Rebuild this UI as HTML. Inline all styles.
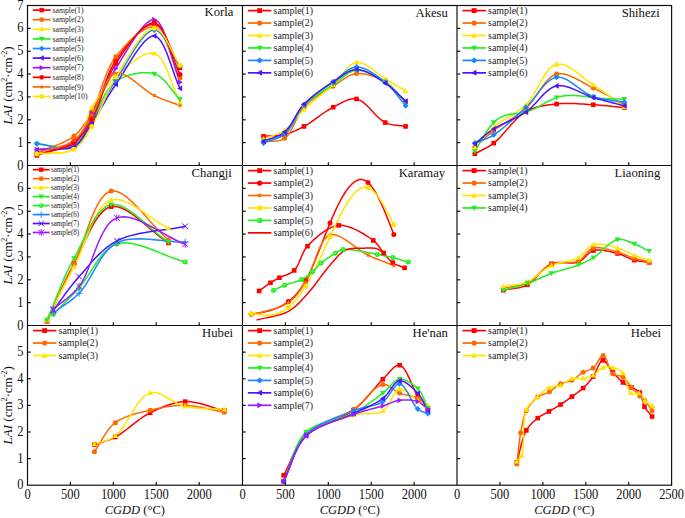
<!DOCTYPE html><html><head><meta charset="utf-8"><style>html,body{margin:0;padding:0;background:#fff;}svg{display:block;}</style></head><body><svg width="685" height="518" viewBox="0 0 685 518">
<rect width="685" height="518" fill="#fff"/>
<defs><clipPath id="clip00"><rect x="27.5" y="5.5" width="214.6" height="160.0"/></clipPath><clipPath id="clip01"><rect x="242.5" y="5.5" width="214.6" height="160.0"/></clipPath><clipPath id="clip02"><rect x="457.0" y="5.5" width="214.6" height="160.0"/></clipPath><clipPath id="clip10"><rect x="27.5" y="165.5" width="214.6" height="160.0"/></clipPath><clipPath id="clip11"><rect x="242.5" y="165.5" width="214.6" height="160.0"/></clipPath><clipPath id="clip12"><rect x="457.0" y="165.5" width="214.6" height="160.0"/></clipPath><clipPath id="clip20"><rect x="27.5" y="325.5" width="214.6" height="159.7"/></clipPath><clipPath id="clip21"><rect x="242.5" y="325.5" width="214.6" height="159.7"/></clipPath><clipPath id="clip22"><rect x="457.0" y="325.5" width="214.6" height="159.7"/></clipPath></defs>
<g clip-path="url(#clip00)">
<path d="M36.86 155.21L39.55 154.22L42.31 153.27L45.12 152.36L47.96 151.47L50.81 150.60L53.66 149.71L56.48 148.81L59.26 147.88L61.97 146.90L64.61 145.86L67.14 144.75L69.55 143.54L71.82 142.24L73.94 140.81L75.60 139.54L77.15 138.25L78.61 136.92L79.98 135.55L81.29 134.13L82.53 132.67L83.73 131.15L84.89 129.58L86.03 127.94L87.15 126.24L88.28 124.46L89.42 122.61L90.59 120.67L91.79 118.64L93.56 115.36L95.22 111.73L96.81 107.80L98.33 103.62L99.83 99.25L101.32 94.75L102.83 90.16L104.37 85.55L105.98 80.96L107.68 76.46L109.49 72.09L111.44 67.92L113.54 63.99L115.83 60.36L118.12 57.08L120.60 53.62L123.25 50.06L126.03 46.47L128.91 42.91L131.86 39.45L134.84 36.18L137.84 33.16L140.81 30.46L143.74 28.14L146.58 26.30L149.30 24.98L151.88 24.27L154.29 24.24L156.49 24.95L158.58 26.37L160.59 28.42L162.51 31.01L164.36 34.06L166.15 37.48L167.90 41.18L169.62 45.08L171.33 49.10L173.02 53.14L174.73 57.13L176.46 60.98L178.23 64.60L180.04 67.90" fill="none" stroke="#ff0000" stroke-width="1.5" stroke-linejoin="round"/>
<path d="M36.86 152.93L39.55 151.75L42.31 150.62L45.12 149.52L47.96 148.45L50.82 147.39L53.67 146.32L56.49 145.23L59.27 144.11L61.99 142.95L64.62 141.73L67.15 140.44L69.56 139.07L71.83 137.60L73.94 136.01L75.62 134.59L77.18 133.13L78.63 131.64L80.01 130.10L81.30 128.52L82.53 126.90L83.72 125.22L84.87 123.50L86.00 121.71L87.12 119.86L88.25 117.95L89.39 115.97L90.57 113.91L91.79 111.79L93.51 108.55L95.13 104.99L96.68 101.17L98.19 97.14L99.67 92.95L101.15 88.66L102.66 84.30L104.22 79.95L105.84 75.64L107.56 71.44L109.39 67.39L111.37 63.55L113.51 59.97L115.83 56.70L118.12 53.84L120.61 50.86L123.27 47.81L126.06 44.76L128.96 41.77L131.93 38.90L134.94 36.20L137.95 33.73L140.94 31.56L143.86 29.75L146.69 28.35L149.39 27.42L151.94 27.02L154.29 27.21L156.64 28.19L158.83 29.95L160.90 32.40L162.85 35.44L164.70 38.99L166.48 42.94L168.20 47.21L169.87 51.70L171.52 56.31L173.16 60.95L174.82 65.53L176.50 69.96L178.24 74.13L180.04 77.96" fill="none" stroke="#ff6a00" stroke-width="1.5" stroke-linejoin="round"/>
<path d="M36.86 154.07L39.55 153.74L42.33 153.52L45.16 153.39L48.03 153.32L50.91 153.27L53.79 153.21L56.64 153.11L59.43 152.93L62.16 152.64L64.79 152.20L67.30 151.59L69.68 150.77L71.90 149.70L73.94 148.36L75.92 146.54L77.65 144.36L79.17 141.88L80.52 139.13L81.72 136.16L82.82 133.03L83.84 129.78L84.82 126.46L85.80 123.11L86.80 119.78L87.87 116.53L89.04 113.39L90.33 110.43L91.79 107.67L93.27 105.20L94.76 102.76L96.27 100.34L97.81 97.95L99.38 95.60L100.99 93.28L102.65 91.00L104.35 88.77L106.10 86.57L107.91 84.42L109.78 82.33L111.72 80.28L113.74 78.29L115.83 76.36L118.20 74.23L120.75 71.94L123.46 69.56L126.27 67.13L129.18 64.71L132.15 62.37L135.14 60.17L138.12 58.15L141.08 56.38L143.97 54.91L146.77 53.81L149.44 53.13L151.95 52.93L154.29 53.27L156.68 54.36L158.91 56.17L161.00 58.62L162.96 61.61L164.81 65.06L166.58 68.89L168.29 73.01L169.95 77.33L171.58 81.77L173.21 86.23L174.84 90.64L176.52 94.90L178.24 98.93L180.04 102.64" fill="none" stroke="#ffe600" stroke-width="1.5" stroke-linejoin="round"/>
<path d="M36.86 143.79L39.55 144.02L42.32 144.39L45.14 144.85L47.99 145.37L50.86 145.91L53.72 146.44L56.55 146.92L59.34 147.32L62.06 147.61L64.69 147.74L67.21 147.69L69.61 147.42L71.86 146.89L73.94 146.07L75.70 145.05L77.30 143.80L78.77 142.34L80.13 140.71L81.40 138.92L82.59 137.00L83.72 134.97L84.83 132.86L85.91 130.69L87.00 128.48L88.12 126.26L89.27 124.06L90.49 121.89L91.79 119.79L93.38 117.20L94.92 114.43L96.43 111.50L97.92 108.46L99.42 105.35L100.95 102.22L102.51 99.10L104.12 96.05L105.80 93.10L107.57 90.29L109.44 87.68L111.43 85.29L113.55 83.18L115.83 81.39L118.13 79.93L120.61 78.58L123.26 77.35L126.03 76.24L128.91 75.26L131.85 74.43L134.83 73.74L137.82 73.22L140.80 72.86L143.72 72.67L146.55 72.67L149.28 72.86L151.87 73.25L154.29 73.84L156.47 74.68L158.54 75.81L160.53 77.20L162.45 78.81L164.30 80.61L166.10 82.56L167.85 84.63L169.58 86.78L171.29 88.98L173.00 91.19L174.72 93.38L176.46 95.50L178.22 97.54L180.04 99.44" fill="none" stroke="#22ee22" stroke-width="1.5" stroke-linejoin="round"/>
<path d="M36.86 143.79L39.55 144.11L42.31 144.56L45.13 145.11L47.98 145.71L50.85 146.34L53.71 146.96L56.54 147.53L59.33 148.02L62.04 148.39L64.68 148.61L67.20 148.63L69.60 148.43L71.85 147.97L73.94 147.21L75.68 146.27L77.27 145.10L78.75 143.74L80.11 142.21L81.38 140.52L82.59 138.71L83.74 136.79L84.85 134.78L85.95 132.70L87.05 130.58L88.16 128.43L89.31 126.29L90.52 124.16L91.79 122.07L93.43 119.44L95.05 116.72L96.66 113.91L98.26 111.02L99.87 108.06L101.50 105.05L103.14 102.00L104.81 98.91L106.51 95.80L108.26 92.67L110.06 89.54L111.91 86.42L113.83 83.32L115.83 80.24L118.24 76.49L120.78 72.30L123.45 67.80L126.21 63.09L129.05 58.30L131.93 53.53L134.85 48.90L137.78 44.52L140.69 40.51L143.57 36.98L146.39 34.05L149.13 31.83L151.77 30.42L154.29 29.96L156.31 30.34L158.27 31.38L160.19 32.98L162.07 35.08L163.92 37.60L165.73 40.45L167.53 43.56L169.31 46.85L171.08 50.25L172.85 53.68L174.63 57.05L176.41 60.29L178.21 63.32L180.04 66.07" fill="none" stroke="#1a86ff" stroke-width="1.5" stroke-linejoin="round"/>
<path d="M36.86 149.73L39.55 149.52L42.31 149.41L45.13 149.37L47.97 149.37L50.83 149.39L53.69 149.40L56.52 149.38L59.30 149.29L62.02 149.12L64.65 148.84L67.18 148.42L69.58 147.83L71.84 147.06L73.94 146.07L75.64 145.02L77.21 143.83L78.67 142.52L80.02 141.09L81.30 139.56L82.51 137.94L83.67 136.24L84.79 134.48L85.90 132.66L87.02 130.81L88.14 128.92L89.31 127.02L90.52 125.11L91.79 123.21L93.44 120.79L95.06 118.28L96.67 115.68L98.29 113.01L99.90 110.28L101.53 107.49L103.18 104.65L104.85 101.78L106.56 98.89L108.30 95.98L110.10 93.06L111.94 90.14L113.85 87.24L115.83 84.36L118.26 80.76L120.84 76.71L123.54 72.33L126.35 67.74L129.23 63.05L132.16 58.38L135.11 53.85L138.06 49.58L140.99 45.68L143.85 42.27L146.65 39.47L149.33 37.40L151.89 36.17L154.29 35.90L156.48 36.63L158.57 38.25L160.56 40.66L162.48 43.75L164.33 47.42L166.13 51.55L167.88 56.04L169.60 60.78L171.31 65.66L173.02 70.58L174.73 75.43L176.46 80.10L178.23 84.48L180.04 88.47" fill="none" stroke="#4a14ff" stroke-width="1.5" stroke-linejoin="round"/>
<path d="M36.86 149.73L39.55 149.37L42.32 149.10L45.14 148.92L48.00 148.78L50.88 148.66L53.74 148.53L56.58 148.36L59.37 148.13L62.09 147.81L64.72 147.36L67.24 146.76L69.63 145.98L71.87 145.00L73.94 143.79L75.75 142.39L77.40 140.79L78.90 139.03L80.27 137.11L81.54 135.05L82.73 132.88L83.86 130.61L84.94 128.26L86.01 125.86L87.07 123.41L88.17 120.95L89.30 118.48L90.50 116.03L91.79 113.61L93.40 110.68L95.00 107.64L96.58 104.53L98.16 101.36L99.75 98.12L101.36 94.84L102.99 91.53L104.66 88.19L106.37 84.84L108.13 81.50L109.94 78.16L111.83 74.86L113.79 71.58L115.83 68.36L118.22 64.59L120.78 60.41L123.48 55.93L126.29 51.26L129.19 46.53L132.14 41.83L135.12 37.30L138.09 33.04L141.03 29.17L143.92 25.80L146.71 23.05L149.39 21.04L151.92 19.87L154.29 19.67L156.58 20.57L158.74 22.53L160.78 25.42L162.72 29.11L164.57 33.48L166.35 38.40L168.08 43.74L169.77 49.37L171.44 55.18L173.11 61.02L174.79 66.79L176.49 72.34L178.23 77.55L180.04 82.30" fill="none" stroke="#9a1cff" stroke-width="1.5" stroke-linejoin="round"/>
<path d="M36.86 155.21L39.55 154.35L42.31 153.55L45.12 152.79L47.96 152.06L50.82 151.34L53.67 150.62L56.50 149.87L59.28 149.08L61.99 148.24L64.62 147.33L67.15 146.33L69.56 145.23L71.83 144.00L73.94 142.64L75.62 141.38L77.18 140.08L78.65 138.71L80.02 137.30L81.32 135.83L82.56 134.31L83.75 132.72L84.90 131.07L86.03 129.36L87.15 127.58L88.27 125.74L89.41 123.83L90.58 121.84L91.79 119.79L93.54 116.58L95.20 113.06L96.79 109.29L98.34 105.30L99.87 101.14L101.39 96.86L102.92 92.50L104.49 88.11L106.12 83.72L107.82 79.40L109.63 75.17L111.55 71.09L113.61 67.21L115.83 63.56L118.14 60.04L120.64 56.28L123.30 52.35L126.09 48.35L128.98 44.35L131.93 40.45L134.92 36.73L137.92 33.28L140.89 30.17L143.80 27.50L146.63 25.35L149.34 23.80L151.90 22.95L154.29 22.87L156.54 23.68L158.67 25.33L160.69 27.74L162.62 30.80L164.47 34.41L166.26 38.46L168.00 42.85L169.70 47.47L171.39 52.24L173.07 57.04L174.76 61.77L176.48 66.33L178.23 70.62L180.04 74.53" fill="none" stroke="#ff0000" stroke-width="1.5" stroke-linejoin="round"/>
<path d="M36.86 152.93L39.55 152.07L42.31 151.28L45.13 150.54L47.98 149.82L50.84 149.12L53.69 148.42L56.52 147.69L59.30 146.91L62.02 146.08L64.65 145.17L67.18 144.16L69.59 143.03L71.84 141.77L73.94 140.36L75.65 138.98L77.22 137.52L78.68 135.97L80.04 134.35L81.31 132.65L82.52 130.89L83.68 129.07L84.80 127.20L85.91 125.28L87.02 123.33L88.15 121.33L89.31 119.31L90.52 117.27L91.79 115.21L93.42 112.41L94.99 109.24L96.53 105.77L98.05 102.11L99.57 98.32L101.10 94.50L102.67 90.74L104.28 87.12L105.96 83.73L107.71 80.65L109.56 77.96L111.52 75.76L113.60 74.13L115.83 73.16L118.13 72.89L120.59 73.23L123.19 74.09L125.91 75.40L128.72 77.07L131.59 79.03L134.52 81.19L137.46 83.49L140.41 85.84L143.33 88.15L146.20 90.36L149.00 92.39L151.70 94.14L154.29 95.56L156.25 96.48L158.18 97.35L160.07 98.16L161.94 98.92L163.78 99.64L165.60 100.34L167.41 101.00L169.21 101.66L171.01 102.30L172.80 102.94L174.59 103.58L176.39 104.24L178.21 104.91L180.04 105.61" fill="none" stroke="#ff6a00" stroke-width="1.5" stroke-linejoin="round"/>
<path d="M36.86 154.07L39.55 153.78L42.31 153.58L45.13 153.45L47.97 153.36L50.83 153.28L53.69 153.19L56.52 153.08L59.30 152.90L62.01 152.65L64.65 152.28L67.18 151.79L69.58 151.14L71.84 150.31L73.94 149.27L75.64 148.20L77.22 147.02L78.69 145.73L80.06 144.33L81.35 142.85L82.58 141.27L83.75 139.62L84.89 137.89L86.01 136.10L87.12 134.25L88.24 132.35L89.38 130.41L90.56 128.43L91.79 126.41L93.50 123.52L95.16 120.42L96.77 117.15L98.36 113.72L99.94 110.17L101.52 106.53L103.11 102.81L104.74 99.05L106.40 95.27L108.12 91.50L109.91 87.77L111.78 84.10L113.75 80.51L115.83 77.04L118.19 73.21L120.70 69.01L123.35 64.56L126.11 59.95L128.94 55.29L131.84 50.69L134.78 46.25L137.73 42.07L140.66 38.25L143.56 34.91L146.39 32.15L149.14 30.06L151.78 28.77L154.29 28.36L156.32 28.77L158.30 29.84L160.23 31.49L162.11 33.63L163.96 36.19L165.77 39.10L167.56 42.26L169.34 45.61L171.10 49.07L172.87 52.55L174.63 55.97L176.41 59.27L178.21 62.36L180.04 65.16" fill="none" stroke="#ffe600" stroke-width="1.5" stroke-linejoin="round"/>
<rect x="34.56" y="152.91" width="4.60" height="4.60" fill="#ff0000"/>
<rect x="71.64" y="138.51" width="4.60" height="4.60" fill="#ff0000"/>
<rect x="89.49" y="116.34" width="4.60" height="4.60" fill="#ff0000"/>
<rect x="113.53" y="58.06" width="4.60" height="4.60" fill="#ff0000"/>
<rect x="151.99" y="21.94" width="4.60" height="4.60" fill="#ff0000"/>
<rect x="177.74" y="65.60" width="4.60" height="4.60" fill="#ff0000"/>
<circle cx="36.86" cy="152.93" r="2.50" fill="#ff6a00"/>
<circle cx="73.94" cy="136.01" r="2.50" fill="#ff6a00"/>
<circle cx="91.79" cy="111.79" r="2.50" fill="#ff6a00"/>
<circle cx="115.83" cy="56.70" r="2.50" fill="#ff6a00"/>
<circle cx="154.29" cy="27.21" r="2.50" fill="#ff6a00"/>
<circle cx="180.04" cy="77.96" r="2.50" fill="#ff6a00"/>
<path d="M36.86 151.20L39.73 156.23L33.98 156.23Z" fill="#ffe600"/>
<path d="M73.94 145.48L76.81 150.51L71.06 150.51Z" fill="#ffe600"/>
<path d="M91.79 104.80L94.67 109.83L88.92 109.83Z" fill="#ffe600"/>
<path d="M115.83 73.48L118.70 78.51L112.95 78.51Z" fill="#ffe600"/>
<path d="M154.29 50.40L157.16 55.43L151.41 55.43Z" fill="#ffe600"/>
<path d="M180.04 99.77L182.91 104.80L177.16 104.80Z" fill="#ffe600"/>
<path d="M36.86 146.66L39.73 141.63L33.98 141.63Z" fill="#22ee22"/>
<path d="M73.94 148.95L76.81 143.92L71.06 143.92Z" fill="#22ee22"/>
<path d="M91.79 122.66L94.67 117.63L88.92 117.63Z" fill="#22ee22"/>
<path d="M115.83 84.26L118.70 79.23L112.95 79.23Z" fill="#22ee22"/>
<path d="M154.29 76.72L157.16 71.69L151.41 71.69Z" fill="#22ee22"/>
<path d="M180.04 102.32L182.91 97.29L177.16 97.29Z" fill="#22ee22"/>
<path d="M36.86 140.80L39.85 143.79L36.86 146.78L33.87 143.79Z" fill="#1a86ff"/>
<path d="M73.94 144.22L76.93 147.21L73.94 150.20L70.95 147.21Z" fill="#1a86ff"/>
<path d="M91.79 119.08L94.78 122.07L91.79 125.06L88.80 122.07Z" fill="#1a86ff"/>
<path d="M115.83 77.25L118.82 80.24L115.83 83.23L112.84 80.24Z" fill="#1a86ff"/>
<path d="M154.29 26.97L157.28 29.96L154.29 32.95L151.30 29.96Z" fill="#1a86ff"/>
<path d="M180.04 63.08L183.03 66.07L180.04 69.06L177.05 66.07Z" fill="#1a86ff"/>
<path d="M33.98 149.73L39.01 146.85L39.01 152.60Z" fill="#4a14ff"/>
<path d="M71.06 146.07L76.10 143.20L76.10 148.95Z" fill="#4a14ff"/>
<path d="M88.92 123.21L93.95 120.34L93.95 126.09Z" fill="#4a14ff"/>
<path d="M112.95 84.36L117.99 81.48L117.99 87.23Z" fill="#4a14ff"/>
<path d="M151.41 35.90L156.44 33.03L156.44 38.78Z" fill="#4a14ff"/>
<path d="M177.16 88.47L182.19 85.60L182.19 91.35Z" fill="#4a14ff"/>
<path d="M39.73 149.73L34.70 146.85L34.70 152.60Z" fill="#9a1cff"/>
<path d="M76.81 143.79L71.78 140.91L71.78 146.66Z" fill="#9a1cff"/>
<path d="M94.67 113.61L89.64 110.74L89.64 116.49Z" fill="#9a1cff"/>
<path d="M118.70 68.36L113.67 65.48L113.67 71.23Z" fill="#9a1cff"/>
<path d="M157.16 19.67L152.13 16.80L152.13 22.55Z" fill="#9a1cff"/>
<path d="M182.91 82.30L177.88 79.42L177.88 85.17Z" fill="#9a1cff"/>
<circle cx="36.86" cy="155.21" r="2.50" fill="#ff0000"/>
<circle cx="73.94" cy="142.64" r="2.50" fill="#ff0000"/>
<circle cx="91.79" cy="119.79" r="2.50" fill="#ff0000"/>
<circle cx="115.83" cy="63.56" r="2.50" fill="#ff0000"/>
<circle cx="154.29" cy="22.87" r="2.50" fill="#ff0000"/>
<circle cx="180.04" cy="74.53" r="2.50" fill="#ff0000"/>
<path d="M36.86 150.17L37.54 151.99L39.48 152.08L37.96 153.29L38.48 155.16L36.86 154.09L35.23 155.16L35.75 153.29L34.23 152.08L36.18 151.99Z" fill="#ff6a00"/>
<path d="M73.94 137.60L74.62 139.42L76.56 139.50L75.04 140.72L75.56 142.59L73.94 141.52L72.32 142.59L72.84 140.72L71.31 139.50L73.26 139.42Z" fill="#ff6a00"/>
<path d="M91.79 112.45L92.48 114.28L94.42 114.36L92.90 115.57L93.42 117.45L91.79 116.37L90.17 117.45L90.69 115.57L89.17 114.36L91.11 114.28Z" fill="#ff6a00"/>
<path d="M115.83 70.40L116.51 72.22L118.45 72.30L116.93 73.52L117.45 75.39L115.83 74.32L114.21 75.39L114.73 73.52L113.20 72.30L115.15 72.22Z" fill="#ff6a00"/>
<path d="M154.29 92.80L154.97 94.62L156.91 94.70L155.39 95.92L155.91 97.79L154.29 96.72L152.66 97.79L153.18 95.92L151.66 94.70L153.60 94.62Z" fill="#ff6a00"/>
<path d="M180.04 102.85L180.72 104.68L182.66 104.76L181.14 105.97L181.66 107.85L180.04 106.77L178.42 107.85L178.94 105.97L177.41 104.76L179.36 104.68Z" fill="#ff6a00"/>
<circle cx="36.86" cy="154.07" r="2.50" fill="#ffe600"/>
<circle cx="73.94" cy="149.27" r="2.50" fill="#ffe600"/>
<circle cx="91.79" cy="126.41" r="2.50" fill="#ffe600"/>
<circle cx="115.83" cy="77.04" r="2.50" fill="#ffe600"/>
<circle cx="154.29" cy="28.36" r="2.50" fill="#ffe600"/>
<circle cx="180.04" cy="65.16" r="2.50" fill="#ffe600"/>
</g>
<g clip-path="url(#clip01)">
<path d="M263.53 136.24L265.04 136.13L266.56 136.04L268.09 135.96L269.61 135.90L271.14 135.85L272.67 135.79L274.19 135.72L275.71 135.64L277.23 135.53L278.74 135.39L280.23 135.22L281.72 135.00L283.19 134.74L284.65 134.41L286.07 134.05L287.47 133.65L288.84 133.22L290.20 132.75L291.55 132.26L292.89 131.73L294.23 131.17L295.57 130.58L296.92 129.96L298.28 129.31L299.66 128.63L301.07 127.92L302.50 127.18L303.96 126.41L305.91 125.33L307.90 124.11L309.95 122.78L312.02 121.36L314.13 119.87L316.26 118.35L318.40 116.80L320.55 115.25L322.71 113.73L324.85 112.25L326.99 110.83L329.10 109.51L331.18 108.29L333.23 107.21L334.93 106.35L336.62 105.45L338.29 104.53L339.96 103.62L341.62 102.73L343.28 101.89L344.93 101.11L346.58 100.41L348.23 99.81L349.87 99.33L351.52 98.99L353.17 98.81L354.83 98.80L356.50 98.99L358.55 99.58L360.61 100.59L362.67 101.96L364.75 103.62L366.82 105.52L368.89 107.58L370.97 109.75L373.04 111.96L375.10 114.15L377.15 116.25L379.20 118.20L381.23 119.94L383.25 121.41L385.25 122.53L386.73 123.17L388.21 123.70L389.67 124.14L391.13 124.49L392.59 124.78L394.04 125.01L395.48 125.20L396.93 125.36L398.37 125.51L399.81 125.65L401.25 125.79L402.70 125.96L404.15 126.16L405.60 126.41" fill="none" stroke="#ff0000" stroke-width="1.5" stroke-linejoin="round"/>
<path d="M263.53 141.96L265.05 141.74L266.60 141.59L268.15 141.49L269.72 141.42L271.30 141.37L272.87 141.31L274.43 141.22L275.98 141.09L277.51 140.89L279.01 140.62L280.49 140.24L281.92 139.74L283.31 139.10L284.65 138.30L286.29 136.97L287.81 135.34L289.22 133.43L290.55 131.30L291.82 128.99L293.04 126.54L294.25 124.00L295.46 121.41L296.69 118.81L297.97 116.24L299.32 113.76L300.75 111.39L302.29 109.20L303.96 107.21L305.75 105.39L307.63 103.64L309.61 101.94L311.66 100.29L313.77 98.70L315.92 97.16L318.11 95.66L320.32 94.21L322.53 92.79L324.74 91.41L326.93 90.06L329.08 88.75L331.19 87.45L333.23 86.19L334.94 85.09L336.61 83.95L338.26 82.80L339.89 81.65L341.51 80.52L343.13 79.41L344.74 78.36L346.36 77.36L347.99 76.45L349.63 75.63L351.30 74.92L352.99 74.33L354.73 73.89L356.50 73.61L358.44 73.49L360.46 73.51L362.53 73.68L364.65 73.97L366.79 74.39L368.95 74.92L371.12 75.55L373.28 76.26L375.41 77.06L377.50 77.92L379.55 78.84L381.53 79.81L383.44 80.81L385.25 81.84L386.94 82.92L388.57 84.11L390.13 85.40L391.63 86.77L393.09 88.21L394.52 89.71L395.91 91.25L397.29 92.83L398.65 94.42L400.01 96.02L401.38 97.61L402.76 99.17L404.16 100.70L405.60 102.19" fill="none" stroke="#ff6a00" stroke-width="1.5" stroke-linejoin="round"/>
<path d="M263.53 138.99L265.05 138.37L266.58 137.79L268.12 137.24L269.67 136.70L271.22 136.18L272.77 135.64L274.31 135.10L275.84 134.53L277.37 133.93L278.87 133.28L280.36 132.59L281.82 131.82L283.25 130.99L284.65 130.07L286.15 128.95L287.59 127.73L288.98 126.42L290.32 125.03L291.64 123.58L292.95 122.07L294.24 120.52L295.54 118.95L296.84 117.35L298.18 115.75L299.55 114.15L300.96 112.57L302.43 111.01L303.96 109.50L305.84 107.76L307.80 106.01L309.83 104.26L311.91 102.49L314.05 100.73L316.21 98.96L318.40 97.19L320.59 95.41L322.78 93.64L324.96 91.87L327.10 90.10L329.20 88.33L331.25 86.57L333.23 84.81L334.99 83.12L336.69 81.27L338.35 79.31L339.98 77.28L341.59 75.23L343.17 73.19L344.76 71.21L346.35 69.33L347.95 67.58L349.57 66.02L351.23 64.68L352.93 63.61L354.68 62.84L356.50 62.41L358.40 62.37L360.37 62.70L362.40 63.34L364.48 64.25L366.59 65.40L368.72 66.73L370.87 68.20L373.01 69.76L375.15 71.38L377.26 73.00L379.34 74.58L381.37 76.08L383.35 77.45L385.25 78.64L386.82 79.57L388.35 80.48L389.86 81.37L391.34 82.27L392.79 83.15L394.23 84.02L395.66 84.90L397.07 85.77L398.48 86.63L399.89 87.50L401.30 88.36L402.72 89.23L404.15 90.11L405.60 90.99" fill="none" stroke="#ffe600" stroke-width="1.5" stroke-linejoin="round"/>
<path d="M263.53 140.81L265.05 140.39L266.59 140.03L268.15 139.71L269.71 139.41L271.28 139.13L272.85 138.84L274.40 138.53L275.95 138.18L277.48 137.78L278.98 137.31L280.46 136.75L281.90 136.10L283.29 135.32L284.65 134.41L286.25 133.06L287.74 131.47L289.14 129.67L290.47 127.70L291.75 125.59L293.00 123.37L294.23 121.09L295.46 118.76L296.72 116.43L298.01 114.12L299.36 111.88L300.79 109.73L302.32 107.71L303.96 105.84L305.76 104.05L307.66 102.31L309.65 100.61L311.70 98.96L313.81 97.35L315.97 95.78L318.16 94.25L320.36 92.75L322.57 91.28L324.77 89.85L326.95 88.44L329.10 87.06L331.20 85.70L333.23 84.36L334.94 83.17L336.62 81.93L338.28 80.66L339.91 79.37L341.54 78.08L343.15 76.83L344.76 75.63L346.38 74.50L348.00 73.46L349.65 72.54L351.31 71.75L353.00 71.12L354.73 70.67L356.50 70.41L358.44 70.37L360.46 70.53L362.53 70.89L364.64 71.41L366.79 72.09L368.95 72.89L371.11 73.81L373.26 74.83L375.39 75.92L377.49 77.07L379.53 78.25L381.52 79.46L383.43 80.66L385.25 81.84L386.93 83.01L388.54 84.27L390.09 85.60L391.59 86.99L393.05 88.43L394.48 89.92L395.88 91.44L397.26 92.99L398.63 94.55L399.99 96.11L401.37 97.66L402.75 99.20L404.16 100.71L405.60 102.19" fill="none" stroke="#22ee22" stroke-width="1.5" stroke-linejoin="round"/>
<path d="M263.53 143.10L265.05 142.48L266.59 141.91L268.14 141.38L269.71 140.87L271.27 140.37L272.84 139.87L274.40 139.34L275.94 138.79L277.47 138.18L278.97 137.52L280.45 136.78L281.89 135.95L283.29 135.01L284.65 133.96L286.24 132.46L287.72 130.76L289.12 128.88L290.45 126.84L291.73 124.69L292.97 122.44L294.21 120.14L295.45 117.79L296.71 115.45L298.01 113.13L299.36 110.87L300.80 108.69L302.32 106.62L303.96 104.70L305.76 102.83L307.66 101.00L309.65 99.21L311.70 97.46L313.81 95.75L315.97 94.07L318.16 92.43L320.36 90.83L322.57 89.26L324.77 87.72L326.95 86.21L329.10 84.73L331.20 83.27L333.23 81.84L334.94 80.58L336.63 79.24L338.28 77.86L339.92 76.46L341.55 75.07L343.17 73.70L344.79 72.40L346.41 71.18L348.04 70.06L349.68 69.08L351.34 68.25L353.03 67.61L354.74 67.18L356.50 66.99L358.46 67.05L360.48 67.38L362.56 67.94L364.68 68.71L366.83 69.67L368.99 70.79L371.15 72.04L373.30 73.40L375.43 74.83L377.52 76.32L379.56 77.84L381.53 79.36L383.44 80.86L385.25 82.30L386.94 83.72L388.56 85.22L390.12 86.78L391.62 88.41L393.08 90.08L394.51 91.80L395.90 93.54L397.28 95.31L398.64 97.09L400.01 98.87L401.37 100.65L402.76 102.41L404.16 104.14L405.60 105.84" fill="none" stroke="#1a86ff" stroke-width="1.5" stroke-linejoin="round"/>
<path d="M263.53 141.27L265.05 140.63L266.59 140.04L268.14 139.48L269.70 138.95L271.26 138.43L272.82 137.90L274.38 137.35L275.92 136.77L277.45 136.15L278.95 135.47L280.43 134.72L281.87 133.88L283.28 132.95L284.65 131.90L286.22 130.46L287.69 128.83L289.08 127.05L290.41 125.12L291.70 123.09L292.95 120.98L294.20 118.81L295.45 116.61L296.71 114.40L298.02 112.22L299.38 110.09L300.82 108.03L302.34 106.07L303.96 104.24L305.77 102.42L307.67 100.62L309.65 98.85L311.70 97.11L313.81 95.41L315.96 93.73L318.14 92.10L320.33 90.50L322.54 88.95L324.74 87.43L326.92 85.96L329.07 84.54L331.18 83.17L333.23 81.84L334.93 80.72L336.60 79.56L338.26 78.37L339.90 77.19L341.53 76.02L343.15 74.89L344.78 73.82L346.40 72.82L348.04 71.92L349.69 71.13L351.35 70.47L353.04 69.97L354.75 69.64L356.50 69.50L358.46 69.59L360.49 69.91L362.56 70.44L364.67 71.16L366.81 72.05L368.95 73.07L371.10 74.20L373.24 75.43L375.36 76.71L377.45 78.03L379.49 79.37L381.48 80.70L383.40 81.99L385.25 83.21L386.89 84.33L388.47 85.50L390.00 86.71L391.49 87.95L392.95 89.21L394.38 90.51L395.79 91.82L397.19 93.14L398.57 94.47L399.96 95.80L401.34 97.13L402.74 98.45L404.16 99.76L405.60 101.04" fill="none" stroke="#4a14ff" stroke-width="1.5" stroke-linejoin="round"/>
<rect x="261.23" y="133.94" width="4.60" height="4.60" fill="#ff0000"/>
<rect x="282.35" y="132.11" width="4.60" height="4.60" fill="#ff0000"/>
<rect x="301.66" y="124.11" width="4.60" height="4.60" fill="#ff0000"/>
<rect x="330.93" y="104.91" width="4.60" height="4.60" fill="#ff0000"/>
<rect x="354.20" y="96.69" width="4.60" height="4.60" fill="#ff0000"/>
<rect x="382.95" y="120.23" width="4.60" height="4.60" fill="#ff0000"/>
<rect x="403.30" y="124.11" width="4.60" height="4.60" fill="#ff0000"/>
<circle cx="263.53" cy="141.96" r="2.50" fill="#ff6a00"/>
<circle cx="284.65" cy="138.30" r="2.50" fill="#ff6a00"/>
<circle cx="303.96" cy="107.21" r="2.50" fill="#ff6a00"/>
<circle cx="333.23" cy="86.19" r="2.50" fill="#ff6a00"/>
<circle cx="356.50" cy="73.61" r="2.50" fill="#ff6a00"/>
<circle cx="385.25" cy="81.84" r="2.50" fill="#ff6a00"/>
<circle cx="405.60" cy="102.19" r="2.50" fill="#ff6a00"/>
<path d="M263.53 136.11L266.41 141.14L260.66 141.14Z" fill="#ffe600"/>
<path d="M284.65 127.20L287.52 132.23L281.77 132.23Z" fill="#ffe600"/>
<path d="M303.96 106.62L306.84 111.66L301.09 111.66Z" fill="#ffe600"/>
<path d="M333.23 81.94L336.11 86.97L330.36 86.97Z" fill="#ffe600"/>
<path d="M356.50 59.54L359.37 64.57L353.62 64.57Z" fill="#ffe600"/>
<path d="M385.25 75.77L388.13 80.80L382.38 80.80Z" fill="#ffe600"/>
<path d="M405.60 88.11L408.47 93.14L402.72 93.14Z" fill="#ffe600"/>
<path d="M263.53 143.69L266.41 138.66L260.66 138.66Z" fill="#22ee22"/>
<path d="M284.65 137.29L287.52 132.26L281.77 132.26Z" fill="#22ee22"/>
<path d="M303.96 108.72L306.84 103.69L301.09 103.69Z" fill="#22ee22"/>
<path d="M333.23 87.23L336.11 82.20L330.36 82.20Z" fill="#22ee22"/>
<path d="M356.50 73.29L359.37 68.26L353.62 68.26Z" fill="#22ee22"/>
<path d="M385.25 84.72L388.13 79.69L382.38 79.69Z" fill="#22ee22"/>
<path d="M405.60 105.06L408.47 100.03L402.72 100.03Z" fill="#22ee22"/>
<path d="M263.53 140.11L266.52 143.10L263.53 146.09L260.54 143.10Z" fill="#1a86ff"/>
<path d="M284.65 130.97L287.64 133.96L284.65 136.95L281.66 133.96Z" fill="#1a86ff"/>
<path d="M303.96 101.71L306.95 104.70L303.96 107.69L300.97 104.70Z" fill="#1a86ff"/>
<path d="M333.23 78.85L336.22 81.84L333.23 84.83L330.24 81.84Z" fill="#1a86ff"/>
<path d="M356.50 64.00L359.49 66.99L356.50 69.98L353.51 66.99Z" fill="#1a86ff"/>
<path d="M385.25 79.31L388.24 82.30L385.25 85.29L382.26 82.30Z" fill="#1a86ff"/>
<path d="M405.60 102.85L408.59 105.84L405.60 108.83L402.61 105.84Z" fill="#1a86ff"/>
<path d="M260.66 141.27L265.69 138.40L265.69 144.15Z" fill="#4a14ff"/>
<path d="M281.77 131.90L286.80 129.03L286.80 134.78Z" fill="#4a14ff"/>
<path d="M301.09 104.24L306.12 101.37L306.12 107.12Z" fill="#4a14ff"/>
<path d="M330.36 81.84L335.39 78.97L335.39 84.72Z" fill="#4a14ff"/>
<path d="M353.62 69.50L358.65 66.62L358.65 72.38Z" fill="#4a14ff"/>
<path d="M382.38 83.21L387.41 80.34L387.41 86.09Z" fill="#4a14ff"/>
<path d="M402.72 101.04L407.75 98.17L407.75 103.92Z" fill="#4a14ff"/>
</g>
<g clip-path="url(#clip02)">
<path d="M474.85 153.84L476.20 153.10L477.53 152.39L478.85 151.71L480.17 151.04L481.48 150.38L482.80 149.72L484.12 149.04L485.45 148.34L486.79 147.61L488.14 146.84L489.50 146.01L490.89 145.11L492.30 144.15L493.74 143.10L495.85 141.37L497.99 139.37L500.16 137.15L502.37 134.76L504.60 132.23L506.87 129.62L509.16 126.98L511.49 124.35L513.84 121.79L516.21 119.33L518.61 117.04L521.03 114.94L523.47 113.10L525.93 111.56L528.01 110.47L530.10 109.51L532.21 108.66L534.34 107.92L536.49 107.27L538.65 106.71L540.84 106.22L543.03 105.79L545.25 105.42L547.48 105.10L549.73 104.80L552.00 104.53L554.28 104.27L556.57 104.01L559.09 103.77L561.65 103.61L564.25 103.51L566.89 103.47L569.55 103.47L572.22 103.53L574.91 103.62L577.59 103.74L580.27 103.88L582.94 104.04L585.58 104.21L588.20 104.38L590.78 104.55L593.31 104.70L595.61 104.84L597.88 105.01L600.13 105.19L602.37 105.39L604.58 105.60L606.78 105.82L608.98 106.05L611.16 106.28L613.35 106.52L615.53 106.76L617.71 106.99L619.90 107.23L622.10 107.45L624.30 107.67" fill="none" stroke="#ff0000" stroke-width="1.5" stroke-linejoin="round"/>
<path d="M474.85 147.21L476.19 146.04L477.50 144.87L478.79 143.71L480.07 142.55L481.35 141.39L482.63 140.23L483.92 139.07L485.22 137.90L486.55 136.73L487.90 135.55L489.29 134.37L490.72 133.18L492.20 131.97L493.74 130.76L495.75 129.24L497.87 127.74L500.08 126.25L502.35 124.76L504.69 123.27L507.07 121.76L509.47 120.24L511.90 118.68L514.32 117.10L516.73 115.46L519.11 113.78L521.44 112.04L523.72 110.24L525.93 108.36L528.23 106.11L530.45 103.56L532.62 100.77L534.73 97.83L536.81 94.78L538.87 91.70L540.93 88.66L543.01 85.72L545.11 82.96L547.26 80.43L549.46 78.21L551.74 76.37L554.10 74.97L556.57 74.07L558.96 73.71L561.43 73.73L563.99 74.09L566.60 74.75L569.27 75.66L571.97 76.78L574.70 78.07L577.43 79.47L580.16 80.96L582.88 82.48L585.57 83.98L588.21 85.44L590.80 86.80L593.31 88.01L595.64 89.10L597.93 90.22L600.20 91.37L602.44 92.53L604.65 93.72L606.85 94.93L609.04 96.14L611.21 97.37L613.39 98.60L615.56 99.83L617.73 101.06L619.91 102.29L622.10 103.50L624.30 104.70" fill="none" stroke="#ff6a00" stroke-width="1.5" stroke-linejoin="round"/>
<path d="M474.85 148.13L476.19 146.62L477.48 145.11L478.76 143.59L480.02 142.07L481.28 140.54L482.54 139.02L483.81 137.50L485.10 135.98L486.42 134.47L487.78 132.97L489.18 131.48L490.63 130.01L492.15 128.55L493.74 127.10L495.72 125.45L497.82 123.87L500.01 122.35L502.30 120.87L504.64 119.42L507.04 117.97L509.47 116.51L511.91 115.03L514.35 113.50L516.78 111.92L519.16 110.27L521.49 108.52L523.76 106.67L525.93 104.70L528.29 102.14L530.55 99.18L532.73 95.89L534.85 92.38L536.93 88.72L538.98 85.01L541.02 81.34L543.06 77.80L545.14 74.48L547.26 71.46L549.45 68.84L551.72 66.70L554.09 65.14L556.57 64.24L558.95 64.02L561.42 64.28L563.97 64.98L566.58 66.04L569.25 67.43L571.96 69.07L574.69 70.92L577.43 72.91L580.17 75.00L582.89 77.12L585.58 79.22L588.22 81.24L590.80 83.12L593.31 84.81L595.65 86.33L597.95 87.87L600.21 89.43L602.45 91.02L604.67 92.61L606.87 94.22L609.05 95.84L611.23 97.47L613.40 99.10L615.56 100.73L617.73 102.37L619.91 103.99L622.10 105.61L624.30 107.21" fill="none" stroke="#ffe600" stroke-width="1.5" stroke-linejoin="round"/>
<path d="M474.85 151.33L476.20 148.93L477.55 146.54L478.90 144.17L480.25 141.83L481.60 139.53L482.95 137.29L484.30 135.11L485.65 133.01L486.99 130.99L488.34 129.06L489.69 127.24L491.04 125.54L492.39 123.97L493.74 122.53L496.04 120.41L498.34 118.68L500.64 117.29L502.94 116.20L505.24 115.36L507.54 114.73L509.83 114.27L512.13 113.93L514.43 113.68L516.73 113.45L519.03 113.22L521.33 112.93L523.63 112.54L525.93 112.01L528.12 111.35L530.31 110.54L532.50 109.61L534.69 108.57L536.87 107.46L539.06 106.29L541.25 105.08L543.44 103.87L545.63 102.67L547.82 101.50L550.01 100.39L552.20 99.35L554.39 98.42L556.57 97.61L559.20 96.83L561.82 96.24L564.45 95.82L567.07 95.56L569.70 95.44L572.32 95.44L574.94 95.54L577.57 95.73L580.19 95.98L582.82 96.28L585.44 96.61L588.07 96.96L590.69 97.30L593.31 97.61L595.53 97.85L597.74 98.06L599.95 98.25L602.17 98.41L604.38 98.55L606.59 98.67L608.81 98.77L611.02 98.86L613.23 98.94L615.45 99.01L617.66 99.07L619.88 99.12L622.09 99.17L624.30 99.21" fill="none" stroke="#22ee22" stroke-width="1.5" stroke-linejoin="round"/>
<path d="M474.85 143.10L476.20 142.53L477.53 142.00L478.85 141.50L480.17 141.01L481.48 140.53L482.80 140.05L484.12 139.55L485.44 139.03L486.78 138.48L488.13 137.88L489.50 137.23L490.89 136.52L492.30 135.74L493.74 134.87L495.86 133.48L498.04 131.92L500.27 130.22L502.55 128.39L504.86 126.46L507.20 124.44L509.57 122.34L511.94 120.20L514.31 118.02L516.68 115.82L519.04 113.62L521.37 111.44L523.67 109.30L525.93 107.21L528.15 105.02L530.34 102.61L532.49 100.04L534.61 97.36L536.72 94.63L538.83 91.91L540.94 89.25L543.06 86.72L545.20 84.36L547.38 82.24L549.59 80.42L551.86 78.94L554.18 77.87L556.57 77.27L559.00 77.20L561.49 77.62L564.04 78.48L566.63 79.69L569.26 81.20L571.93 82.94L574.61 84.83L577.31 86.81L580.01 88.81L582.72 90.76L585.40 92.59L588.07 94.24L590.71 95.63L593.31 96.70L595.56 97.42L597.79 98.04L600.01 98.58L602.23 99.04L604.45 99.44L606.66 99.79L608.87 100.11L611.07 100.39L613.27 100.66L615.48 100.93L617.68 101.20L619.88 101.49L622.09 101.82L624.30 102.19" fill="none" stroke="#1a86ff" stroke-width="1.5" stroke-linejoin="round"/>
<path d="M474.85 143.79L476.19 142.72L477.50 141.65L478.78 140.58L480.06 139.51L481.33 138.44L482.61 137.37L483.89 136.30L485.19 135.23L486.51 134.16L487.87 133.10L489.26 132.05L490.70 131.00L492.19 129.96L493.74 128.93L495.74 127.69L497.85 126.50L500.04 125.34L502.30 124.21L504.63 123.09L507.00 121.98L509.40 120.86L511.82 119.72L514.25 118.56L516.66 117.36L519.05 116.12L521.40 114.82L523.70 113.45L525.93 112.01L528.20 110.32L530.42 108.40L532.59 106.30L534.72 104.07L536.83 101.76L538.93 99.43L541.02 97.12L543.13 94.88L545.25 92.78L547.41 90.85L549.61 89.16L551.86 87.74L554.18 86.66L556.57 85.96L559.00 85.66L561.50 85.72L564.06 86.07L566.67 86.69L569.32 87.52L572.00 88.53L574.71 89.66L577.42 90.88L580.13 92.15L582.83 93.41L585.51 94.64L588.16 95.77L590.76 96.78L593.31 97.61L595.60 98.27L597.87 98.91L600.11 99.53L602.34 100.13L604.56 100.72L606.76 101.30L608.96 101.87L611.15 102.44L613.33 103.00L615.52 103.56L617.71 104.12L619.90 104.69L622.09 105.26L624.30 105.84" fill="none" stroke="#4a14ff" stroke-width="1.5" stroke-linejoin="round"/>
<rect x="472.55" y="151.54" width="4.60" height="4.60" fill="#ff0000"/>
<rect x="491.44" y="140.80" width="4.60" height="4.60" fill="#ff0000"/>
<rect x="523.63" y="109.26" width="4.60" height="4.60" fill="#ff0000"/>
<rect x="554.27" y="101.71" width="4.60" height="4.60" fill="#ff0000"/>
<rect x="591.01" y="102.40" width="4.60" height="4.60" fill="#ff0000"/>
<rect x="622.00" y="105.37" width="4.60" height="4.60" fill="#ff0000"/>
<circle cx="474.85" cy="147.21" r="2.50" fill="#ff6a00"/>
<circle cx="493.74" cy="130.76" r="2.50" fill="#ff6a00"/>
<circle cx="525.93" cy="108.36" r="2.50" fill="#ff6a00"/>
<circle cx="556.57" cy="74.07" r="2.50" fill="#ff6a00"/>
<circle cx="593.31" cy="88.01" r="2.50" fill="#ff6a00"/>
<circle cx="624.30" cy="104.70" r="2.50" fill="#ff6a00"/>
<path d="M474.85 145.25L477.73 150.28L471.98 150.28Z" fill="#ffe600"/>
<path d="M493.74 124.22L496.61 129.26L490.86 129.26Z" fill="#ffe600"/>
<path d="M525.93 101.82L528.80 106.86L523.05 106.86Z" fill="#ffe600"/>
<path d="M556.57 61.37L559.45 66.40L553.70 66.40Z" fill="#ffe600"/>
<path d="M593.31 81.94L596.19 86.97L590.44 86.97Z" fill="#ffe600"/>
<path d="M624.30 104.34L627.18 109.37L621.43 109.37Z" fill="#ffe600"/>
<path d="M474.85 154.20L477.73 149.17L471.98 149.17Z" fill="#22ee22"/>
<path d="M493.74 125.40L496.61 120.37L490.86 120.37Z" fill="#22ee22"/>
<path d="M525.93 114.89L528.80 109.86L523.05 109.86Z" fill="#22ee22"/>
<path d="M556.57 100.49L559.45 95.46L553.70 95.46Z" fill="#22ee22"/>
<path d="M593.31 100.49L596.19 95.46L590.44 95.46Z" fill="#22ee22"/>
<path d="M624.30 102.09L627.18 97.06L621.43 97.06Z" fill="#22ee22"/>
<path d="M474.85 140.11L477.84 143.10L474.85 146.09L471.86 143.10Z" fill="#1a86ff"/>
<path d="M493.74 131.88L496.73 134.87L493.74 137.86L490.75 134.87Z" fill="#1a86ff"/>
<path d="M525.93 104.22L528.92 107.21L525.93 110.20L522.94 107.21Z" fill="#1a86ff"/>
<path d="M556.57 74.28L559.56 77.27L556.57 80.26L553.58 77.27Z" fill="#1a86ff"/>
<path d="M593.31 93.71L596.30 96.70L593.31 99.69L590.32 96.70Z" fill="#1a86ff"/>
<path d="M624.30 99.20L627.29 102.19L624.30 105.18L621.31 102.19Z" fill="#1a86ff"/>
<path d="M471.98 143.79L477.01 140.91L477.01 146.66Z" fill="#4a14ff"/>
<path d="M490.86 128.93L495.90 126.05L495.90 131.80Z" fill="#4a14ff"/>
<path d="M523.05 112.01L528.09 109.14L528.09 114.89Z" fill="#4a14ff"/>
<path d="M553.70 85.96L558.73 83.08L558.73 88.83Z" fill="#4a14ff"/>
<path d="M590.44 97.61L595.47 94.74L595.47 100.49Z" fill="#4a14ff"/>
<path d="M621.43 105.84L626.46 102.97L626.46 108.72Z" fill="#4a14ff"/>
</g>
<g clip-path="url(#clip10)">
<path d="M46.99 321.39L48.90 317.27L50.77 313.14L52.62 309.00L54.46 304.86L56.29 300.72L58.12 296.58L59.96 292.44L61.83 288.31L63.73 284.19L65.67 280.07L67.66 275.97L69.71 271.89L71.83 267.83L74.03 263.79L76.34 259.41L78.66 254.67L80.99 249.69L83.35 244.55L85.75 239.35L88.20 234.21L90.71 229.21L93.30 224.45L95.98 220.04L98.76 216.07L101.65 212.65L104.66 209.87L107.81 207.84L111.11 206.64L114.58 206.37L118.23 206.94L122.05 208.26L126.01 210.23L130.09 212.74L134.26 215.69L138.51 218.98L142.81 222.51L147.14 226.18L151.47 229.88L155.80 233.51L160.08 236.98L164.31 240.17L168.45 242.99" fill="none" stroke="#ff0000" stroke-width="1.5" stroke-linejoin="round"/>
<path d="M46.99 321.39L48.90 317.29L50.80 313.21L52.68 309.15L54.56 305.11L56.42 301.07L58.29 297.02L60.17 292.97L62.06 288.90L63.97 284.81L65.91 280.69L67.88 276.54L69.88 272.34L71.93 268.09L74.03 263.79L76.41 258.54L78.76 252.72L81.10 246.46L83.45 239.92L85.82 233.24L88.23 226.57L90.70 220.06L93.24 213.85L95.88 208.08L98.63 202.91L101.51 198.48L104.54 194.94L107.73 192.43L111.11 191.10L114.55 191.01L118.18 191.98L121.99 193.88L125.94 196.59L130.02 199.98L134.19 203.92L138.45 208.28L142.76 212.94L147.10 217.77L151.45 222.64L155.78 227.43L160.07 232.01L164.30 236.24L168.45 240.01" fill="none" stroke="#ff6a00" stroke-width="1.5" stroke-linejoin="round"/>
<path d="M46.99 319.79L48.90 316.01L50.80 312.26L52.68 308.52L54.56 304.80L56.42 301.07L58.29 297.35L60.17 293.62L62.06 289.87L63.97 286.10L65.91 282.31L67.88 278.49L69.88 274.62L71.93 270.72L74.03 266.76L76.40 261.97L78.73 256.70L81.04 251.09L83.34 245.24L85.67 239.27L88.03 233.31L90.47 227.46L92.98 221.87L95.61 216.63L98.36 211.87L101.27 207.71L104.35 204.27L107.62 201.66L111.11 200.01L114.51 199.40L118.13 199.56L121.92 200.40L125.86 201.84L129.94 203.77L134.12 206.10L138.38 208.75L142.70 211.61L147.05 214.60L151.41 217.61L155.76 220.57L160.06 223.37L164.30 225.92L168.45 228.13" fill="none" stroke="#ffe600" stroke-width="1.5" stroke-linejoin="round"/>
<path d="M46.99 319.79L48.89 315.38L50.76 310.94L52.59 306.48L54.40 302.01L56.21 297.54L58.01 293.06L59.84 288.60L61.69 284.16L63.58 279.74L65.52 275.35L67.53 271.01L69.60 266.71L71.77 262.47L74.03 258.30L76.31 254.04L78.62 249.49L80.95 244.73L83.32 239.85L85.74 234.95L88.21 230.12L90.75 225.44L93.37 221.00L96.06 216.91L98.85 213.23L101.74 210.07L104.74 207.52L107.86 205.66L111.11 204.59L114.60 204.38L118.27 205.03L122.10 206.43L126.06 208.47L130.14 211.06L134.31 214.10L138.55 217.48L142.85 221.09L147.17 224.84L151.50 228.63L155.81 232.35L160.09 235.90L164.31 239.17L168.45 242.07" fill="none" stroke="#22ee22" stroke-width="1.5" stroke-linejoin="round"/>
<path d="M53.34 314.30L55.17 312.42L56.98 310.58L58.79 308.76L60.58 306.95L62.38 305.14L64.17 303.34L65.97 301.52L67.78 299.68L69.61 297.82L71.45 295.92L73.31 293.97L75.21 291.97L77.13 289.91L79.09 287.79L81.54 284.88L83.95 281.64L86.35 278.14L88.74 274.45L91.16 270.65L93.61 266.81L96.12 263.01L98.70 259.33L101.37 255.84L104.16 252.62L107.07 249.74L110.13 247.27L113.36 245.30L116.77 243.90L120.80 243.04L125.07 242.81L129.58 243.14L134.27 243.96L139.13 245.19L144.13 246.74L149.23 248.56L154.39 250.55L159.60 252.64L164.82 254.76L170.02 256.83L175.17 258.77L180.23 260.50L185.19 261.96" fill="none" stroke="#22ee22" stroke-width="1.5" stroke-linejoin="round"/>
<path d="M53.34 312.93L55.17 311.56L57.01 310.24L58.84 308.96L60.66 307.71L62.49 306.47L64.32 305.23L66.15 303.96L67.98 302.66L69.81 301.31L71.65 299.89L73.50 298.39L75.35 296.80L77.22 295.10L79.09 293.27L81.65 290.39L84.12 287.06L86.53 283.39L88.91 279.44L91.27 275.30L93.66 271.05L96.09 266.77L98.60 262.55L101.21 258.47L103.96 254.61L106.86 251.04L109.94 247.86L113.24 245.15L116.77 242.99L120.75 241.30L124.99 240.09L129.47 239.31L134.16 238.89L139.01 238.77L144.02 238.91L149.12 239.24L154.31 239.70L159.54 240.24L164.77 240.80L169.99 241.32L175.15 241.74L180.23 242.01L185.19 242.07" fill="none" stroke="#1a86ff" stroke-width="1.5" stroke-linejoin="round"/>
<path d="M53.34 310.19L55.16 307.78L56.95 305.37L58.71 302.96L60.47 300.55L62.21 298.13L63.96 295.72L65.72 293.30L67.50 290.89L69.31 288.49L71.16 286.09L73.05 283.70L75.00 281.32L77.01 278.95L79.09 276.59L81.44 273.94L83.80 271.22L86.17 268.45L88.58 265.66L91.03 262.86L93.53 260.07L96.10 257.32L98.74 254.63L101.47 252.02L104.29 249.51L107.23 247.13L110.27 244.89L113.45 242.81L116.77 240.93L120.84 239.00L125.16 237.33L129.68 235.89L134.39 234.65L139.25 233.58L144.24 232.65L149.33 231.82L154.48 231.06L159.67 230.34L164.87 229.64L170.05 228.92L175.18 228.14L180.24 227.28L185.19 226.30" fill="none" stroke="#4a14ff" stroke-width="1.5" stroke-linejoin="round"/>
<path d="M53.34 309.27L55.18 307.68L57.02 306.16L58.87 304.70L60.71 303.27L62.56 301.85L64.41 300.42L66.25 298.97L68.10 297.47L69.94 295.91L71.78 294.26L73.61 292.51L75.44 290.63L77.27 288.60L79.09 286.41L81.74 282.55L84.25 277.92L86.65 272.67L88.98 266.97L91.28 260.95L93.58 254.78L95.92 248.60L98.35 242.56L100.90 236.82L103.61 231.52L106.51 226.83L109.64 222.88L113.05 219.84L116.77 217.84L120.69 216.92L124.90 216.83L129.36 217.48L134.03 218.75L138.89 220.57L143.90 222.81L149.02 225.39L154.22 228.20L159.47 231.14L164.73 234.12L169.96 237.03L175.14 239.77L180.23 242.25L185.19 244.36" fill="none" stroke="#9a1cff" stroke-width="1.5" stroke-linejoin="round"/>
<rect x="44.69" y="319.09" width="4.60" height="4.60" fill="#ff0000"/>
<rect x="71.73" y="261.49" width="4.60" height="4.60" fill="#ff0000"/>
<rect x="108.81" y="204.34" width="4.60" height="4.60" fill="#ff0000"/>
<rect x="166.15" y="240.69" width="4.60" height="4.60" fill="#ff0000"/>
<circle cx="46.99" cy="321.39" r="2.50" fill="#ff6a00"/>
<circle cx="74.03" cy="263.79" r="2.50" fill="#ff6a00"/>
<circle cx="111.11" cy="191.10" r="2.50" fill="#ff6a00"/>
<circle cx="168.45" cy="240.01" r="2.50" fill="#ff6a00"/>
<path d="M46.99 316.91L49.86 321.94L44.11 321.94Z" fill="#ffe600"/>
<path d="M74.03 263.88L76.90 268.91L71.15 268.91Z" fill="#ffe600"/>
<path d="M111.11 197.14L113.98 202.17L108.23 202.17Z" fill="#ffe600"/>
<path d="M168.45 225.25L171.32 230.28L165.57 230.28Z" fill="#ffe600"/>
<path d="M46.99 322.66L49.86 317.63L44.11 317.63Z" fill="#22ee22"/>
<path d="M74.03 261.18L76.90 256.14L71.15 256.14Z" fill="#22ee22"/>
<path d="M111.11 207.46L113.98 202.43L108.23 202.43Z" fill="#22ee22"/>
<path d="M168.45 244.95L171.32 239.92L165.57 239.92Z" fill="#22ee22"/>
<circle cx="53.34" cy="314.30" r="2.50" fill="#22ee22"/><circle cx="52.94" cy="313.90" r="0.76" fill="#a0ffa0"/>
<circle cx="79.09" cy="287.79" r="2.50" fill="#22ee22"/><circle cx="78.69" cy="287.39" r="0.76" fill="#a0ffa0"/>
<circle cx="116.77" cy="243.90" r="2.50" fill="#22ee22"/><circle cx="116.37" cy="243.50" r="0.76" fill="#a0ffa0"/>
<circle cx="185.19" cy="261.96" r="2.50" fill="#22ee22"/><circle cx="184.79" cy="261.56" r="0.76" fill="#a0ffa0"/>
<path d="M50.00 312.93H56.67M53.34 309.59V316.26" stroke="#1a86ff" stroke-width="1"/>
<path d="M75.75 293.27H82.42M79.09 289.94V296.61" stroke="#1a86ff" stroke-width="1"/>
<path d="M113.44 242.99H120.11M116.77 239.65V246.32" stroke="#1a86ff" stroke-width="1"/>
<path d="M181.85 242.07H188.52M185.19 238.74V245.41" stroke="#1a86ff" stroke-width="1"/>
<path d="M50.46 307.31L56.21 313.06M56.21 307.31L50.46 313.06" stroke="#4a14ff" stroke-width="1"/>
<path d="M76.21 273.71L81.96 279.46M81.96 273.71L76.21 279.46" stroke="#4a14ff" stroke-width="1"/>
<path d="M113.90 238.05L119.65 243.80M119.65 238.05L113.90 243.80" stroke="#4a14ff" stroke-width="1"/>
<path d="M182.31 223.43L188.06 229.18M188.06 223.43L182.31 229.18" stroke="#4a14ff" stroke-width="1"/>
<path d="M50.46 306.40L56.21 312.15M56.21 306.40L50.46 312.15M53.34 305.82V312.72" stroke="#9a1cff" stroke-width="1"/>
<path d="M76.21 283.54L81.96 289.29M81.96 283.54L76.21 289.29M79.09 282.96V289.86" stroke="#9a1cff" stroke-width="1"/>
<path d="M113.90 214.97L119.65 220.72M119.65 214.97L113.90 220.72M116.77 214.39V221.29" stroke="#9a1cff" stroke-width="1"/>
<path d="M182.31 241.48L188.06 247.23M188.06 241.48L182.31 247.23M185.19 240.91V247.81" stroke="#9a1cff" stroke-width="1"/>
</g>
<g clip-path="url(#clip11)">
<path d="M259.07 290.99L259.89 290.39L260.71 289.79L261.53 289.18L262.36 288.56L263.19 287.94L264.01 287.33L264.84 286.71L265.66 286.11L266.48 285.51L267.30 284.92L268.11 284.35L268.91 283.80L269.70 283.27L270.48 282.76L271.14 282.34L271.78 281.95L272.40 281.57L273.02 281.21L273.63 280.85L274.24 280.51L274.84 280.17L275.46 279.83L276.08 279.50L276.71 279.16L277.35 278.82L278.02 278.47L278.70 278.10L279.41 277.73L280.36 277.26L281.35 276.83L282.39 276.41L283.46 276.00L284.56 275.60L285.67 275.19L286.80 274.76L287.92 274.30L289.03 273.80L290.13 273.26L291.20 272.66L292.24 271.99L293.23 271.24L294.18 270.41L295.30 269.18L296.31 267.78L297.24 266.22L298.09 264.53L298.90 262.75L299.68 260.89L300.46 258.97L301.25 257.03L302.08 255.09L302.96 253.16L303.92 251.29L304.98 249.48L306.16 247.77L307.48 246.19L309.18 244.37L311.03 242.48L313.00 240.55L315.08 238.62L317.26 236.70L319.52 234.83L321.84 233.05L324.22 231.38L326.63 229.84L329.07 228.49L331.51 227.33L333.94 226.41L336.35 225.75L338.73 225.39L341.15 225.34L343.70 225.61L346.33 226.15L349.03 226.93L351.77 227.92L354.51 229.08L357.24 230.37L359.91 231.78L362.50 233.25L364.99 234.76L367.35 236.27L369.54 237.75L371.54 239.16L373.32 240.47L374.36 241.31L375.32 242.17L376.20 243.06L377.01 243.97L377.77 244.89L378.47 245.82L379.14 246.75L379.79 247.69L380.42 248.62L381.05 249.54L381.68 250.44L382.32 251.33L383.00 252.20L383.71 253.04L384.36 253.79L384.99 254.54L385.62 255.29L386.24 256.03L386.86 256.77L387.47 257.50L388.09 258.21L388.72 258.92L389.36 259.60L390.01 260.26L390.67 260.90L391.36 261.51L392.07 262.09L392.81 262.64L393.56 263.15L394.34 263.61L395.14 264.05L395.96 264.45L396.80 264.83L397.65 265.19L398.51 265.53L399.38 265.87L400.25 266.19L401.13 266.52L402.00 266.85L402.86 267.19L403.72 267.53L404.57 267.90" fill="none" stroke="#ff0000" stroke-width="1.5" stroke-linejoin="round"/>
<path d="M251.08 314.07L253.75 313.72L256.41 313.35L259.07 312.95L261.73 312.50L264.39 311.98L267.05 311.37L269.71 310.67L272.37 309.85L275.03 308.89L277.69 307.78L280.36 306.51L283.02 305.04L285.68 303.38L288.34 301.50L289.58 300.54L290.82 299.53L292.05 298.46L293.29 297.31L294.53 296.09L295.77 294.79L297.01 293.40L298.25 291.91L299.49 290.33L300.72 288.64L301.96 286.84L303.20 284.92L304.44 282.87L305.68 280.70L307.41 277.43L309.15 273.92L310.88 270.20L312.62 266.29L314.35 262.22L316.09 258.03L317.82 253.73L319.56 249.36L321.29 244.94L323.03 240.50L324.77 236.07L326.50 231.67L328.24 227.34L329.97 223.10L332.69 216.70L335.40 210.64L338.12 204.97L340.84 199.73L343.55 194.99L346.27 190.78L348.98 187.16L351.70 184.17L354.42 181.88L357.13 180.31L359.85 179.54L362.57 179.59L365.28 180.54L368.00 182.41L369.84 184.24L371.69 186.49L373.53 189.12L375.38 192.12L377.23 195.43L379.07 199.04L380.92 202.91L382.76 207.00L384.61 211.29L386.45 215.75L388.30 220.33L390.14 225.01L391.99 229.75L393.84 234.53" fill="none" stroke="#ff0000" stroke-width="1.5" stroke-linejoin="round"/>
<path d="M251.08 315.21L253.79 314.35L256.56 313.54L259.39 312.76L262.25 312.01L265.12 311.28L267.99 310.53L270.83 309.77L273.62 308.97L276.35 308.13L278.99 307.22L281.54 306.23L283.95 305.15L286.23 303.96L288.34 302.64L289.95 301.48L291.46 300.28L292.86 299.04L294.18 297.75L295.43 296.42L296.62 295.04L297.77 293.61L298.89 292.13L299.99 290.59L301.08 289.00L302.18 287.36L303.31 285.66L304.47 283.90L305.68 282.07L307.37 279.19L308.99 275.82L310.55 272.07L312.07 268.04L313.59 263.83L315.10 259.55L316.65 255.29L318.24 251.17L319.91 247.29L321.66 243.74L323.52 240.63L325.51 238.07L327.66 236.15L329.97 234.99L332.23 234.62L334.66 234.82L337.23 235.52L339.91 236.64L342.69 238.11L345.54 239.87L348.44 241.83L351.36 243.92L354.28 246.06L357.17 248.19L360.01 250.24L362.78 252.12L365.45 253.76L368.00 255.10L369.98 256.01L371.91 256.87L373.82 257.69L375.69 258.47L377.54 259.23L379.37 259.96L381.18 260.67L382.99 261.37L384.78 262.07L386.58 262.76L388.38 263.45L390.18 264.16L392.00 264.88L393.84 265.61" fill="none" stroke="#ff6a00" stroke-width="1.5" stroke-linejoin="round"/>
<path d="M251.08 313.39L253.75 313.80L256.41 314.18L259.07 314.51L261.73 314.77L264.39 314.92L267.05 314.94L269.71 314.82L272.37 314.51L275.03 313.99L277.69 313.25L280.36 312.24L283.02 310.96L285.68 309.37L288.34 307.44L289.58 306.43L290.82 305.33L292.05 304.16L293.29 302.91L294.53 301.58L295.77 300.18L297.01 298.70L298.25 297.14L299.49 295.51L300.72 293.79L301.96 292.01L303.20 290.14L304.44 288.20L305.68 286.19L307.41 283.23L309.15 280.15L310.88 276.93L312.62 273.61L314.35 270.18L316.09 266.67L317.82 263.07L319.56 259.42L321.29 255.71L323.03 251.96L324.77 248.19L326.50 244.40L328.24 240.60L329.97 236.81L332.69 230.94L335.40 225.17L338.12 219.58L340.84 214.23L343.55 209.18L346.27 204.50L348.98 200.24L351.70 196.47L354.42 193.26L357.13 190.66L359.85 188.74L362.57 187.56L365.28 187.18L368.00 187.67L369.84 188.52L371.69 189.77L373.53 191.39L375.38 193.35L377.23 195.61L379.07 198.15L380.92 200.93L382.76 203.93L384.61 207.11L386.45 210.44L388.30 213.90L390.14 217.45L391.99 221.06L393.84 224.70" fill="none" stroke="#ffe600" stroke-width="1.5" stroke-linejoin="round"/>
<path d="M273.57 290.30L274.35 289.94L275.12 289.58L275.88 289.22L276.64 288.85L277.39 288.49L278.14 288.13L278.90 287.77L279.67 287.41L280.44 287.04L281.23 286.69L282.03 286.33L282.85 285.97L283.69 285.62L284.56 285.27L285.66 284.86L286.82 284.46L288.02 284.08L289.26 283.71L290.53 283.34L291.81 282.97L293.10 282.60L294.39 282.23L295.67 281.84L296.92 281.43L298.15 281.00L299.34 280.55L300.48 280.07L301.56 279.56L302.45 279.09L303.33 278.60L304.18 278.09L305.01 277.57L305.83 277.03L306.62 276.48L307.40 275.92L308.17 275.35L308.92 274.77L309.67 274.19L310.40 273.59L311.12 272.99L311.84 272.39L312.55 271.79L313.20 271.20L313.82 270.61L314.42 270.00L315.00 269.38L315.56 268.76L316.12 268.13L316.67 267.50L317.23 266.86L317.80 266.22L318.38 265.59L318.98 264.96L319.60 264.33L320.26 263.71L320.96 263.10L321.85 262.37L322.80 261.61L323.79 260.85L324.82 260.09L325.89 259.32L326.97 258.56L328.07 257.80L329.17 257.07L330.26 256.35L331.33 255.66L332.38 255.01L333.40 254.38L334.37 253.80L335.29 253.27L335.90 252.92L336.46 252.57L337.00 252.23L337.50 251.91L338.00 251.60L338.48 251.30L338.97 251.02L339.47 250.75L339.99 250.51L340.54 250.28L341.12 250.08L341.75 249.90L342.44 249.74L343.19 249.61L344.91 249.46L346.90 249.46L349.13 249.58L351.56 249.82L354.13 250.14L356.82 250.55L359.58 251.01L362.37 251.52L365.14 252.05L367.86 252.58L370.48 253.10L372.97 253.59L375.27 254.04L377.35 254.41L378.65 254.64L379.89 254.86L381.08 255.08L382.22 255.30L383.33 255.51L384.42 255.73L385.47 255.95L386.52 256.17L387.55 256.39L388.58 256.62L389.61 256.86L390.66 257.10L391.72 257.35L392.81 257.61L393.91 257.89L395.02 258.18L396.13 258.47L397.23 258.77L398.33 259.08L399.44 259.40L400.54 259.72L401.64 260.04L402.74 260.36L403.85 260.68L404.95 261.01L406.05 261.33L407.15 261.64L408.26 261.96" fill="none" stroke="#22ee22" stroke-width="1.5" stroke-linejoin="round"/>
<path d="M256.58 320.01L258.87 319.42L261.21 318.88L263.58 318.37L265.96 317.88L268.36 317.40L270.75 316.91L273.12 316.41L275.47 315.88L277.78 315.31L280.04 314.68L282.24 313.97L284.36 313.19L286.40 312.31L288.34 311.33L289.99 310.36L291.56 309.33L293.07 308.24L294.51 307.10L295.91 305.90L297.27 304.66L298.60 303.37L299.90 302.05L301.19 300.69L302.47 299.30L303.76 297.88L305.06 296.44L306.39 294.98L307.74 293.50L309.34 291.71L310.94 289.81L312.54 287.83L314.15 285.76L315.75 283.65L317.35 281.50L318.95 279.34L320.53 277.18L322.11 275.04L323.68 272.95L325.23 270.92L326.77 268.97L328.29 267.12L329.80 265.39L330.95 264.08L332.08 262.77L333.19 261.46L334.28 260.17L335.35 258.91L336.43 257.67L337.50 256.48L338.58 255.34L339.67 254.26L340.78 253.25L341.91 252.32L343.07 251.47L344.27 250.72L345.51 250.07L346.65 249.59L347.82 249.21L349.02 248.90L350.25 248.67L351.49 248.50L352.75 248.38L354.02 248.31L355.29 248.27L356.56 248.26L357.82 248.26L359.07 248.27L360.30 248.28L361.50 248.27L362.68 248.24L363.71 248.20L364.76 248.16L365.81 248.11L366.85 248.06L367.90 248.03L368.93 248.00L369.95 247.99L370.95 248.00L371.93 248.04L372.89 248.10L373.82 248.19L374.72 248.32L375.59 248.49L376.41 248.70L377.03 248.90L377.61 249.14L378.18 249.40L378.72 249.69L379.24 249.99L379.75 250.32L380.25 250.65L380.74 251.00L381.23 251.35L381.71 251.70L382.20 252.05L382.69 252.39L383.19 252.72L383.71 253.04" fill="none" stroke="#ff0000" stroke-width="1.5" stroke-linejoin="round"/>
<rect x="256.77" y="288.69" width="4.60" height="4.60" fill="#ff0000"/>
<rect x="268.18" y="280.46" width="4.60" height="4.60" fill="#ff0000"/>
<rect x="277.11" y="275.43" width="4.60" height="4.60" fill="#ff0000"/>
<rect x="291.88" y="268.11" width="4.60" height="4.60" fill="#ff0000"/>
<rect x="305.18" y="243.89" width="4.60" height="4.60" fill="#ff0000"/>
<rect x="336.43" y="223.09" width="4.60" height="4.60" fill="#ff0000"/>
<rect x="371.02" y="238.17" width="4.60" height="4.60" fill="#ff0000"/>
<rect x="381.41" y="250.74" width="4.60" height="4.60" fill="#ff0000"/>
<rect x="390.51" y="260.34" width="4.60" height="4.60" fill="#ff0000"/>
<rect x="402.27" y="265.60" width="4.60" height="4.60" fill="#ff0000"/>
<circle cx="251.08" cy="314.07" r="2.50" fill="#ff0000"/>
<circle cx="288.34" cy="301.50" r="2.50" fill="#ff0000"/>
<circle cx="305.68" cy="280.70" r="2.50" fill="#ff0000"/>
<circle cx="329.97" cy="223.10" r="2.50" fill="#ff0000"/>
<circle cx="368.00" cy="182.41" r="2.50" fill="#ff0000"/>
<circle cx="393.84" cy="234.53" r="2.50" fill="#ff0000"/>
<path d="M251.08 312.45L251.77 314.28L253.71 314.36L252.19 315.57L252.71 317.45L251.08 316.37L249.46 317.45L249.98 315.57L248.46 314.36L250.40 314.28Z" fill="#ff6a00"/>
<path d="M288.34 299.88L289.02 301.71L290.96 301.79L289.44 303.00L289.96 304.88L288.34 303.80L286.72 304.88L287.24 303.00L285.71 301.79L287.66 301.71Z" fill="#ff6a00"/>
<path d="M305.68 279.31L306.36 281.13L308.30 281.22L306.78 282.43L307.30 284.30L305.68 283.23L304.06 284.30L304.58 282.43L303.05 281.22L305.00 281.13Z" fill="#ff6a00"/>
<path d="M329.97 232.23L330.65 234.05L332.60 234.13L331.07 235.34L331.59 237.22L329.97 236.14L328.35 237.22L328.87 235.34L327.35 234.13L329.29 234.05Z" fill="#ff6a00"/>
<path d="M368.00 252.34L368.68 254.16L370.62 254.25L369.10 255.46L369.62 257.33L368.00 256.26L366.38 257.33L366.90 255.46L365.37 254.25L367.32 254.16Z" fill="#ff6a00"/>
<path d="M393.84 262.85L394.52 264.68L396.46 264.76L394.94 265.97L395.46 267.85L393.84 266.77L392.21 267.85L392.73 265.97L391.21 264.76L393.15 264.68Z" fill="#ff6a00"/>
<circle cx="251.08" cy="313.39" r="2.50" fill="#ffe600"/>
<circle cx="288.34" cy="307.44" r="2.50" fill="#ffe600"/>
<circle cx="305.68" cy="286.19" r="2.50" fill="#ffe600"/>
<circle cx="329.97" cy="236.81" r="2.50" fill="#ffe600"/>
<circle cx="368.00" cy="187.67" r="2.50" fill="#ffe600"/>
<circle cx="393.84" cy="224.70" r="2.50" fill="#ffe600"/>
<circle cx="273.57" cy="290.30" r="2.50" fill="#22ee22"/><circle cx="273.17" cy="289.90" r="0.76" fill="#a0ffa0"/>
<circle cx="284.56" cy="285.27" r="2.50" fill="#22ee22"/><circle cx="284.16" cy="284.87" r="0.76" fill="#a0ffa0"/>
<circle cx="301.56" cy="279.56" r="2.50" fill="#22ee22"/><circle cx="301.16" cy="279.16" r="0.76" fill="#a0ffa0"/>
<circle cx="312.55" cy="271.79" r="2.50" fill="#22ee22"/><circle cx="312.15" cy="271.39" r="0.76" fill="#a0ffa0"/>
<circle cx="320.96" cy="263.10" r="2.50" fill="#22ee22"/><circle cx="320.56" cy="262.70" r="0.76" fill="#a0ffa0"/>
<circle cx="335.29" cy="253.27" r="2.50" fill="#22ee22"/><circle cx="334.89" cy="252.87" r="0.76" fill="#a0ffa0"/>
<circle cx="343.19" cy="249.61" r="2.50" fill="#22ee22"/><circle cx="342.79" cy="249.21" r="0.76" fill="#a0ffa0"/>
<circle cx="377.35" cy="254.41" r="2.50" fill="#22ee22"/><circle cx="376.95" cy="254.01" r="0.76" fill="#a0ffa0"/>
<circle cx="392.81" cy="257.61" r="2.50" fill="#22ee22"/><circle cx="392.41" cy="257.21" r="0.76" fill="#a0ffa0"/>
<circle cx="408.26" cy="261.96" r="2.50" fill="#22ee22"/><circle cx="407.86" cy="261.56" r="0.76" fill="#a0ffa0"/>
</g>
<g clip-path="url(#clip12)">
<path d="M503.35 290.30L505.08 289.94L506.81 289.62L508.55 289.34L510.30 289.09L512.05 288.84L513.80 288.59L515.54 288.32L517.28 288.02L519.01 287.67L520.72 287.27L522.42 286.79L524.10 286.24L525.76 285.58L527.39 284.81L529.20 283.75L530.96 282.46L532.67 280.99L534.35 279.38L536.00 277.65L537.64 275.86L539.28 274.05L540.92 272.24L542.57 270.48L544.25 268.81L545.97 267.27L547.73 265.89L549.54 264.71L551.42 263.79L553.24 263.17L555.14 262.75L557.10 262.51L559.12 262.41L561.17 262.42L563.24 262.50L565.32 262.63L567.38 262.77L569.41 262.88L571.39 262.94L573.31 262.91L575.16 262.75L576.91 262.45L578.55 261.96L579.82 261.39L581.00 260.68L582.10 259.87L583.15 258.96L584.15 258.00L585.13 257.00L586.08 255.98L587.04 254.98L588.00 254.01L588.99 253.10L590.02 252.27L591.11 251.55L592.25 250.96L593.49 250.53L594.98 250.21L596.57 250.02L598.23 249.95L599.95 250.00L601.71 250.13L603.52 250.35L605.34 250.64L607.17 250.98L608.99 251.37L610.79 251.79L612.56 252.22L614.28 252.66L615.94 253.09L617.52 253.50L618.84 253.87L620.12 254.29L621.38 254.75L622.61 255.25L623.82 255.77L625.01 256.30L626.19 256.85L627.36 257.39L628.52 257.93L629.68 258.44L630.84 258.93L632.00 259.38L633.17 259.78L634.35 260.13L635.43 260.40L636.50 260.64L637.57 260.86L638.64 261.04L639.71 261.21L640.78 261.36L641.84 261.50L642.90 261.62L643.96 261.75L645.03 261.87L646.09 261.99L647.15 262.12L648.22 262.26L649.28 262.41" fill="none" stroke="#ff0000" stroke-width="1.5" stroke-linejoin="round"/>
<path d="M503.35 288.47L505.08 288.07L506.81 287.71L508.54 287.38L510.28 287.06L512.02 286.76L513.77 286.45L515.50 286.12L517.24 285.77L518.96 285.38L520.68 284.95L522.38 284.46L524.07 283.90L525.74 283.26L527.39 282.53L529.17 281.58L530.92 280.45L532.63 279.19L534.31 277.82L535.98 276.37L537.63 274.87L539.29 273.34L540.94 271.82L542.61 270.34L544.30 268.92L546.02 267.60L547.78 266.39L549.57 265.34L551.42 264.47L553.26 263.83L555.17 263.36L557.15 263.03L559.18 262.82L561.23 262.69L563.30 262.63L565.37 262.59L567.43 262.55L569.45 262.49L571.43 262.38L573.34 262.18L575.18 261.87L576.92 261.43L578.55 260.81L579.83 260.14L581.02 259.32L582.13 258.38L583.17 257.35L584.17 256.26L585.14 255.13L586.09 253.99L587.03 252.87L587.99 251.80L588.97 250.79L590.00 249.89L591.09 249.10L592.24 248.47L593.49 248.01L594.97 247.70L596.55 247.56L598.21 247.56L599.92 247.68L601.69 247.92L603.49 248.25L605.31 248.65L607.14 249.12L608.97 249.62L610.77 250.15L612.54 250.68L614.27 251.20L615.93 251.69L617.52 252.13L618.83 252.50L620.11 252.90L621.37 253.33L622.60 253.78L623.82 254.25L625.01 254.72L626.20 255.21L627.37 255.69L628.53 256.17L629.69 256.63L630.85 257.09L632.01 257.52L633.17 257.92L634.35 258.30L635.43 258.62L636.51 258.93L637.59 259.21L638.66 259.49L639.73 259.75L640.79 260.01L641.85 260.25L642.91 260.49L643.97 260.73L645.03 260.97L646.09 261.21L647.15 261.45L648.22 261.70L649.28 261.96" fill="none" stroke="#ff6a00" stroke-width="1.5" stroke-linejoin="round"/>
<path d="M503.35 286.64L505.07 286.32L506.80 286.04L508.54 285.79L510.27 285.55L512.01 285.33L513.75 285.09L515.49 284.85L517.22 284.58L518.94 284.27L520.66 283.92L522.36 283.51L524.05 283.04L525.73 282.48L527.39 281.84L529.17 281.02L530.91 280.05L532.62 278.98L534.32 277.80L535.99 276.56L537.66 275.26L539.33 273.93L541.00 272.60L542.68 271.28L544.37 269.99L546.08 268.76L547.83 267.60L549.61 266.55L551.42 265.61L553.28 264.82L555.21 264.12L557.20 263.52L559.22 262.99L561.28 262.51L563.34 262.06L565.41 261.63L567.45 261.20L569.47 260.75L571.44 260.27L573.34 259.73L575.18 259.12L576.92 258.42L578.55 257.61L579.82 256.83L581.00 255.92L582.10 254.93L583.15 253.87L584.14 252.76L585.11 251.63L586.06 250.50L587.01 249.40L587.97 248.35L588.96 247.36L589.99 246.47L591.08 245.69L592.24 245.06L593.49 244.59L594.97 244.24L596.55 244.04L598.20 243.98L599.92 244.04L601.69 244.21L603.50 244.46L605.32 244.79L607.16 245.19L608.98 245.63L610.79 246.10L612.56 246.59L614.28 247.08L615.94 247.56L617.52 248.01L618.84 248.42L620.13 248.87L621.39 249.35L622.62 249.87L623.84 250.42L625.03 250.98L626.21 251.56L627.38 252.14L628.54 252.71L629.70 253.28L630.85 253.83L632.01 254.36L633.17 254.86L634.35 255.33L635.43 255.73L636.51 256.11L637.59 256.48L638.66 256.84L639.72 257.18L640.79 257.52L641.85 257.85L642.91 258.17L643.97 258.49L645.03 258.81L646.09 259.13L647.15 259.46L648.22 259.79L649.28 260.13" fill="none" stroke="#ffe600" stroke-width="1.5" stroke-linejoin="round"/>
<path d="M503.35 290.30L505.07 289.82L506.79 289.35L508.51 288.88L510.24 288.43L511.96 287.97L513.68 287.52L515.40 287.06L517.12 286.59L518.84 286.11L520.56 285.62L522.27 285.11L523.98 284.58L525.69 284.02L527.39 283.44L529.12 282.82L530.83 282.15L532.54 281.46L534.24 280.74L535.93 280.00L537.63 279.25L539.32 278.49L541.02 277.72L542.72 276.96L544.43 276.21L546.16 275.47L547.90 274.75L549.65 274.05L551.42 273.39L553.32 272.72L555.27 272.08L557.26 271.46L559.27 270.85L561.31 270.26L563.36 269.68L565.40 269.10L567.42 268.53L569.41 267.96L571.37 267.38L573.27 266.79L575.11 266.18L576.87 265.57L578.55 264.93L579.77 264.44L580.93 263.97L582.04 263.50L583.11 263.04L584.15 262.58L585.17 262.12L586.18 261.64L587.17 261.15L588.17 260.64L589.18 260.11L590.21 259.54L591.26 258.94L592.35 258.30L593.49 257.61L595.07 256.55L596.70 255.29L598.38 253.88L600.09 252.36L601.82 250.75L603.58 249.12L605.36 247.49L607.13 245.90L608.91 244.40L610.68 243.02L612.43 241.81L614.16 240.80L615.86 240.04L617.52 239.56L618.76 239.38L620.00 239.33L621.24 239.40L622.46 239.57L623.69 239.83L624.90 240.16L626.11 240.55L627.31 241.00L628.50 241.48L629.69 241.97L630.87 242.48L632.04 242.98L633.20 243.46L634.35 243.90L635.46 244.33L636.56 244.79L637.65 245.27L638.72 245.77L639.79 246.29L640.85 246.82L641.91 247.37L642.96 247.92L644.01 248.48L645.06 249.04L646.11 249.59L647.16 250.14L648.22 250.68L649.28 251.21" fill="none" stroke="#22ee22" stroke-width="1.5" stroke-linejoin="round"/>
<rect x="501.05" y="288.00" width="4.60" height="4.60" fill="#ff0000"/>
<rect x="525.09" y="282.51" width="4.60" height="4.60" fill="#ff0000"/>
<rect x="549.12" y="261.49" width="4.60" height="4.60" fill="#ff0000"/>
<rect x="576.25" y="259.66" width="4.60" height="4.60" fill="#ff0000"/>
<rect x="591.19" y="248.23" width="4.60" height="4.60" fill="#ff0000"/>
<rect x="615.22" y="251.20" width="4.60" height="4.60" fill="#ff0000"/>
<rect x="632.05" y="257.83" width="4.60" height="4.60" fill="#ff0000"/>
<rect x="646.98" y="260.11" width="4.60" height="4.60" fill="#ff0000"/>
<circle cx="503.35" cy="288.47" r="2.50" fill="#ff6a00"/>
<circle cx="527.39" cy="282.53" r="2.50" fill="#ff6a00"/>
<circle cx="551.42" cy="264.47" r="2.50" fill="#ff6a00"/>
<circle cx="578.55" cy="260.81" r="2.50" fill="#ff6a00"/>
<circle cx="593.49" cy="248.01" r="2.50" fill="#ff6a00"/>
<circle cx="617.52" cy="252.13" r="2.50" fill="#ff6a00"/>
<circle cx="634.35" cy="258.30" r="2.50" fill="#ff6a00"/>
<circle cx="649.28" cy="261.96" r="2.50" fill="#ff6a00"/>
<path d="M503.35 283.77L506.23 288.80L500.48 288.80Z" fill="#ffe600"/>
<path d="M527.39 278.97L530.26 284.00L524.51 284.00Z" fill="#ffe600"/>
<path d="M551.42 262.74L554.30 267.77L548.55 267.77Z" fill="#ffe600"/>
<path d="M578.55 254.74L581.42 259.77L575.67 259.77Z" fill="#ffe600"/>
<path d="M593.49 241.71L596.36 246.74L590.61 246.74Z" fill="#ffe600"/>
<path d="M617.52 245.14L620.40 250.17L614.65 250.17Z" fill="#ffe600"/>
<path d="M634.35 252.45L637.22 257.48L631.47 257.48Z" fill="#ffe600"/>
<path d="M649.28 257.25L652.16 262.28L646.41 262.28Z" fill="#ffe600"/>
<path d="M503.35 293.18L506.23 288.14L500.48 288.14Z" fill="#22ee22"/>
<path d="M527.39 286.32L530.26 281.29L524.51 281.29Z" fill="#22ee22"/>
<path d="M551.42 276.26L554.30 271.23L548.55 271.23Z" fill="#22ee22"/>
<path d="M578.55 267.80L581.42 262.77L575.67 262.77Z" fill="#22ee22"/>
<path d="M593.49 260.49L596.36 255.46L590.61 255.46Z" fill="#22ee22"/>
<path d="M617.52 242.43L620.40 237.40L614.65 237.40Z" fill="#22ee22"/>
<path d="M634.35 246.78L637.22 241.74L631.47 241.74Z" fill="#22ee22"/>
<path d="M649.28 254.09L652.16 249.06L646.41 249.06Z" fill="#22ee22"/>
</g>
<g clip-path="url(#clip20)">
<path d="M94.37 444.74L95.86 444.21L97.33 443.71L98.79 443.24L100.25 442.78L101.70 442.33L103.15 441.87L104.61 441.40L106.08 440.91L107.57 440.39L109.06 439.83L110.59 439.23L112.13 438.56L113.71 437.83L115.31 437.02L117.58 435.75L119.90 434.28L122.27 432.65L124.68 430.88L127.13 429.02L129.62 427.08L132.13 425.11L134.66 423.12L137.22 421.17L139.80 419.26L142.38 417.44L144.98 415.74L147.57 414.18L150.17 412.80L152.58 411.62L155.02 410.46L157.46 409.33L159.92 408.24L162.39 407.21L164.88 406.23L167.37 405.32L169.88 404.48L172.40 403.74L174.94 403.08L177.48 402.54L180.04 402.11L182.61 401.80L185.19 401.62L187.90 401.62L190.64 401.80L193.40 402.16L196.18 402.66L198.98 403.29L201.78 404.02L204.60 404.82L207.42 405.68L210.25 406.57L213.07 407.47L215.90 408.35L218.72 409.20L221.53 409.98L224.33 410.67" fill="none" stroke="#ff0000" stroke-width="1.5" stroke-linejoin="round"/>
<path d="M94.37 451.66L95.83 449.55L97.25 447.37L98.62 445.15L99.97 442.89L101.31 440.62L102.65 438.36L104.02 436.12L105.41 433.93L106.86 431.79L108.37 429.73L109.95 427.77L111.63 425.93L113.41 424.21L115.31 422.65L117.38 421.21L119.57 419.90L121.86 418.70L124.25 417.60L126.71 416.60L129.24 415.69L131.82 414.84L134.44 414.06L137.08 413.34L139.74 412.65L142.38 412.00L145.01 411.37L147.61 410.76L150.17 410.14L152.63 409.55L155.10 408.98L157.57 408.43L160.05 407.92L162.53 407.44L165.01 407.00L167.50 406.60L170.00 406.25L172.51 405.95L175.02 405.70L177.54 405.52L180.08 405.39L182.63 405.34L185.19 405.35L187.92 405.46L190.67 405.69L193.44 406.02L196.22 406.43L199.02 406.91L201.82 407.45L204.63 408.04L207.45 408.66L210.27 409.29L213.09 409.93L215.91 410.56L218.72 411.17L221.53 411.75L224.33 412.27" fill="none" stroke="#ff6a00" stroke-width="1.5" stroke-linejoin="round"/>
<path d="M94.37 444.21L95.86 443.66L97.35 443.16L98.84 442.71L100.32 442.29L101.81 441.88L103.29 441.46L104.78 441.02L106.27 440.54L107.76 440.01L109.26 439.41L110.76 438.72L112.27 437.92L113.79 437.01L115.31 435.96L117.71 433.86L120.09 431.16L122.47 427.98L124.85 424.42L127.24 420.60L129.64 416.63L132.06 412.62L134.51 408.68L137.00 404.92L139.52 401.47L142.09 398.42L144.72 395.89L147.41 393.99L150.17 392.84L152.48 392.47L154.84 392.55L157.23 393.01L159.66 393.80L162.12 394.85L164.61 396.11L167.12 397.52L169.65 399.01L172.21 400.53L174.78 402.02L177.37 403.41L179.97 404.64L182.57 405.67L185.19 406.41L187.88 406.96L190.60 407.41L193.35 407.77L196.13 408.06L198.92 408.28L201.73 408.44L204.55 408.57L207.38 408.67L210.21 408.75L213.05 408.83L215.88 408.91L218.71 409.02L221.53 409.16L224.33 409.34" fill="none" stroke="#ffe600" stroke-width="1.5" stroke-linejoin="round"/>
<rect x="92.07" y="442.44" width="4.60" height="4.60" fill="#ff0000"/>
<rect x="113.01" y="434.72" width="4.60" height="4.60" fill="#ff0000"/>
<rect x="147.87" y="410.50" width="4.60" height="4.60" fill="#ff0000"/>
<rect x="182.89" y="399.32" width="4.60" height="4.60" fill="#ff0000"/>
<rect x="222.03" y="408.37" width="4.60" height="4.60" fill="#ff0000"/>
<circle cx="94.37" cy="451.66" r="2.50" fill="#ff6a00"/>
<circle cx="115.31" cy="422.65" r="2.50" fill="#ff6a00"/>
<circle cx="150.17" cy="410.14" r="2.50" fill="#ff6a00"/>
<circle cx="185.19" cy="405.35" r="2.50" fill="#ff6a00"/>
<circle cx="224.33" cy="412.27" r="2.50" fill="#ff6a00"/>
<path d="M94.37 441.34L97.24 446.37L91.49 446.37Z" fill="#ffe600"/>
<path d="M115.31 433.08L118.19 438.12L112.44 438.12Z" fill="#ffe600"/>
<path d="M150.17 389.97L153.04 395.00L147.29 395.00Z" fill="#ffe600"/>
<path d="M185.19 403.54L188.06 408.57L182.31 408.57Z" fill="#ffe600"/>
<path d="M224.33 406.47L227.21 411.50L221.46 411.50Z" fill="#ffe600"/>
</g>
<g clip-path="url(#clip21)">
<path d="M283.62 475.35L285.18 472.40L286.66 469.38L288.08 466.31L289.46 463.21L290.82 460.10L292.19 456.99L293.59 453.91L295.05 450.87L296.58 447.90L298.21 445.01L299.97 442.21L301.87 439.54L303.93 437.01L306.19 434.63L308.88 432.30L311.85 430.19L315.05 428.27L318.45 426.50L322.01 424.86L325.67 423.31L329.40 421.82L333.15 420.35L336.87 418.87L340.53 417.34L344.09 415.74L347.49 414.03L350.70 412.17L353.66 410.14L356.15 408.17L358.54 406.06L360.86 403.85L363.10 401.56L365.28 399.21L367.40 396.82L369.46 394.42L371.47 392.03L373.44 389.68L375.37 387.38L377.27 385.17L379.15 383.07L381.00 381.09L382.85 379.27L384.16 377.97L385.44 376.60L386.71 375.19L387.95 373.76L389.18 372.35L390.39 370.99L391.58 369.69L392.76 368.50L393.92 367.44L395.07 366.54L396.21 365.84L397.34 365.35L398.47 365.12L399.59 365.16L401.01 365.71L402.42 366.82L403.81 368.41L405.18 370.40L406.53 372.73L407.86 375.32L409.18 378.09L410.47 380.97L411.74 383.88L413.00 386.74L414.23 389.50L415.44 392.05L416.62 394.35L417.79 396.30L418.57 397.48L419.34 398.60L420.09 399.68L420.82 400.71L421.55 401.70L422.26 402.67L422.97 403.61L423.68 404.54L424.38 405.45L425.08 406.37L425.78 407.29L426.48 408.22L427.20 409.17L427.91 410.14" fill="none" stroke="#ff0000" stroke-width="1.5" stroke-linejoin="round"/>
<path d="M283.62 480.68L285.17 477.34L286.64 473.91L288.03 470.43L289.38 466.90L290.72 463.36L292.06 459.83L293.44 456.33L294.87 452.89L296.40 449.52L298.03 446.25L299.80 443.10L301.74 440.10L303.86 437.27L306.19 434.63L308.86 432.15L311.80 429.89L314.99 427.83L318.37 425.92L321.90 424.15L325.55 422.47L329.26 420.88L333.00 419.33L336.73 417.79L340.40 416.24L343.97 414.65L347.40 412.99L350.64 411.23L353.66 409.34L356.07 407.57L358.41 405.59L360.69 403.46L362.91 401.23L365.07 398.95L367.19 396.67L369.27 394.45L371.30 392.32L373.29 390.35L375.25 388.59L377.19 387.08L379.09 385.87L380.98 385.03L382.85 384.59L384.13 384.55L385.39 384.72L386.61 385.06L387.81 385.56L389.00 386.19L390.16 386.92L391.32 387.72L392.48 388.56L393.63 389.43L394.79 390.29L395.96 391.11L397.15 391.87L398.36 392.55L399.59 393.11L400.86 393.57L402.18 393.98L403.52 394.34L404.89 394.67L406.27 394.97L407.66 395.26L409.04 395.55L410.40 395.85L411.75 396.16L413.06 396.51L414.32 396.90L415.54 397.34L416.70 397.85L417.79 398.43L418.67 398.99L419.51 399.61L420.31 400.26L421.06 400.95L421.79 401.67L422.50 402.41L423.18 403.17L423.85 403.94L424.51 404.72L425.17 405.51L425.84 406.28L426.51 407.05L427.20 407.81L427.91 408.54" fill="none" stroke="#ff6a00" stroke-width="1.5" stroke-linejoin="round"/>
<path d="M283.62 481.21L285.17 477.86L286.63 474.40L288.01 470.87L289.35 467.29L290.66 463.69L291.99 460.10L293.36 456.55L294.78 453.07L296.30 449.68L297.94 446.41L299.72 443.30L301.67 440.37L303.82 437.65L306.19 435.16L308.84 432.89L311.76 430.79L314.90 428.86L318.24 427.07L321.73 425.43L325.33 423.92L329.01 422.52L332.72 421.24L336.44 420.05L340.11 418.95L343.71 417.92L347.20 416.96L350.53 416.06L353.66 415.20L355.95 414.65L358.24 414.26L360.52 414.00L362.78 413.84L365.01 413.75L367.21 413.70L369.37 413.65L371.49 413.58L373.55 413.45L375.56 413.24L377.50 412.92L379.36 412.45L381.15 411.80L382.85 410.94L384.38 409.83L385.79 408.41L387.11 406.75L388.33 404.90L389.49 402.92L390.59 400.87L391.67 398.81L392.72 396.80L393.77 394.90L394.84 393.17L395.93 391.66L397.08 390.45L398.29 389.58L399.59 389.11L400.80 389.05L402.06 389.28L403.37 389.74L404.70 390.42L406.06 391.27L407.42 392.25L408.80 393.33L410.17 394.48L411.52 395.64L412.86 396.80L414.16 397.90L415.42 398.92L416.63 399.82L417.79 400.56L418.59 401.02L419.37 401.45L420.13 401.87L420.87 402.27L421.60 402.65L422.31 403.02L423.02 403.38L423.71 403.73L424.41 404.09L425.10 404.44L425.79 404.79L426.49 405.14L427.20 405.51L427.91 405.88" fill="none" stroke="#ffe600" stroke-width="1.5" stroke-linejoin="round"/>
<path d="M283.62 481.21L285.17 477.62L286.61 473.91L287.97 470.11L289.29 466.26L290.59 462.38L291.89 458.52L293.24 454.70L294.65 450.96L296.16 447.32L297.80 443.83L299.59 440.52L301.57 437.42L303.76 434.55L306.19 431.97L308.84 429.75L311.77 427.82L314.94 426.13L318.32 424.65L321.84 423.34L325.49 422.17L329.20 421.08L332.94 420.06L336.68 419.06L340.35 418.04L343.93 416.97L347.37 415.81L350.63 414.52L353.66 413.07L356.06 411.76L358.40 410.40L360.69 409.00L362.94 407.57L365.14 406.12L367.29 404.65L369.39 403.17L371.45 401.68L373.46 400.20L375.42 398.73L377.34 397.28L379.22 395.86L381.06 394.46L382.85 393.11L384.21 392.01L385.50 390.84L386.75 389.61L387.96 388.34L389.14 387.07L390.29 385.81L391.43 384.60L392.55 383.45L393.68 382.39L394.81 381.44L395.96 380.63L397.14 379.98L398.34 379.52L399.59 379.27L400.85 379.22L402.16 379.34L403.51 379.61L404.89 380.02L406.28 380.56L407.69 381.20L409.08 381.94L410.46 382.76L411.82 383.65L413.13 384.59L414.40 385.57L415.60 386.57L416.74 387.58L417.79 388.58L418.78 389.66L419.70 390.83L420.54 392.09L421.33 393.41L422.06 394.79L422.75 396.21L423.40 397.67L424.04 399.16L424.66 400.66L425.28 402.17L425.90 403.67L426.54 405.15L427.21 406.60L427.91 408.01" fill="none" stroke="#22ee22" stroke-width="1.5" stroke-linejoin="round"/>
<path d="M283.62 481.21L285.17 477.83L286.63 474.35L288.02 470.82L289.37 467.23L290.69 463.64L292.03 460.05L293.40 456.49L294.83 453.00L296.35 449.58L297.99 446.28L299.76 443.10L301.70 440.09L303.84 437.25L306.19 434.63L308.85 432.16L311.76 429.86L314.91 427.70L318.25 425.68L321.74 423.78L325.34 422.01L329.02 420.33L332.73 418.75L336.45 417.26L340.12 415.84L343.72 414.48L347.20 413.17L350.53 411.91L353.66 410.67L355.95 409.81L358.24 409.07L360.50 408.42L362.75 407.85L364.97 407.33L367.16 406.85L369.31 406.38L371.42 405.89L373.48 405.38L375.49 404.82L377.43 404.18L379.31 403.45L381.12 402.61L382.85 401.62L384.32 400.54L385.71 399.23L387.03 397.73L388.29 396.10L389.50 394.38L390.67 392.64L391.81 390.92L392.92 389.27L394.01 387.75L395.10 386.40L396.20 385.28L397.30 384.43L398.43 383.92L399.59 383.79L400.91 384.17L402.24 385.07L403.56 386.42L404.88 388.15L406.20 390.18L407.52 392.42L408.83 394.81L410.13 397.26L411.43 399.71L412.72 402.06L414.00 404.26L415.27 406.21L416.53 407.84L417.79 409.08L418.53 409.64L419.26 410.14L419.99 410.57L420.72 410.94L421.44 411.28L422.16 411.57L422.88 411.83L423.60 412.08L424.32 412.31L425.04 412.54L425.75 412.77L426.47 413.02L427.19 413.30L427.91 413.60" fill="none" stroke="#1a86ff" stroke-width="1.5" stroke-linejoin="round"/>
<path d="M283.62 481.74L285.17 478.41L286.63 474.99L288.02 471.50L289.37 467.97L290.69 464.42L292.03 460.88L293.40 457.38L294.83 453.93L296.35 450.57L297.99 447.32L299.76 444.21L301.70 441.26L303.84 438.50L306.19 435.96L308.85 433.61L311.78 431.46L314.94 429.50L318.30 427.70L321.81 426.04L325.43 424.49L329.12 423.04L332.85 421.66L336.57 420.33L340.24 419.02L343.83 417.72L347.29 416.40L350.58 415.03L353.66 413.60L356.00 412.46L358.31 411.37L360.60 410.30L362.85 409.27L365.06 408.25L367.24 407.24L369.37 406.23L371.46 405.21L373.50 404.18L375.49 403.11L377.42 402.02L379.29 400.88L381.10 399.68L382.85 398.43L384.28 397.23L385.62 395.87L386.90 394.38L388.12 392.80L389.30 391.18L390.44 389.55L391.55 387.95L392.65 386.41L393.75 384.99L394.85 383.72L395.98 382.63L397.14 381.76L398.34 381.16L399.59 380.86L400.84 380.86L402.14 381.10L403.48 381.55L404.85 382.19L406.24 382.98L407.64 383.92L409.03 384.97L410.41 386.11L411.77 387.31L413.09 388.54L414.36 389.79L415.57 391.03L416.72 392.23L417.79 393.37L418.73 394.45L419.60 395.57L420.42 396.73L421.19 397.93L421.92 399.16L422.62 400.42L423.29 401.69L423.94 402.98L424.59 404.28L425.23 405.58L425.87 406.87L426.53 408.16L427.21 409.43L427.91 410.67" fill="none" stroke="#4a14ff" stroke-width="1.5" stroke-linejoin="round"/>
<path d="M283.62 481.74L285.17 478.41L286.63 474.99L288.02 471.49L289.36 467.95L290.69 464.39L292.02 460.84L293.39 457.33L294.82 453.88L296.34 450.51L297.97 447.27L299.75 444.16L301.69 441.22L303.83 438.48L306.19 435.96L308.85 433.63L311.77 431.47L314.92 429.48L318.26 427.64L321.75 425.94L325.35 424.36L329.03 422.89L332.75 421.51L336.47 420.21L340.14 418.98L343.74 417.79L347.22 416.64L350.54 415.52L353.66 414.40L355.96 413.58L358.22 412.81L360.47 412.10L362.69 411.43L364.87 410.79L367.03 410.20L369.15 409.63L371.23 409.08L373.28 408.54L375.28 408.02L377.25 407.49L379.16 406.97L381.03 406.43L382.85 405.88L384.19 405.44L385.48 404.98L386.73 404.51L387.94 404.03L389.13 403.55L390.29 403.07L391.44 402.61L392.58 402.17L393.72 401.75L394.86 401.37L396.01 401.02L397.18 400.73L398.37 400.48L399.59 400.29L400.87 400.15L402.18 400.04L403.53 399.95L404.89 399.91L406.27 399.89L407.65 399.92L409.03 399.98L410.39 400.08L411.73 400.22L413.03 400.41L414.30 400.64L415.52 400.92L416.69 401.25L417.79 401.62L418.65 401.99L419.47 402.41L420.26 402.88L421.02 403.39L421.74 403.94L422.45 404.51L423.14 405.11L423.82 405.72L424.49 406.34L425.16 406.96L425.83 407.58L426.51 408.19L427.20 408.78L427.91 409.34" fill="none" stroke="#9a1cff" stroke-width="1.5" stroke-linejoin="round"/>
<rect x="281.32" y="473.05" width="4.60" height="4.60" fill="#ff0000"/>
<rect x="303.89" y="432.33" width="4.60" height="4.60" fill="#ff0000"/>
<rect x="351.36" y="407.84" width="4.60" height="4.60" fill="#ff0000"/>
<rect x="380.55" y="376.97" width="4.60" height="4.60" fill="#ff0000"/>
<rect x="397.29" y="362.86" width="4.60" height="4.60" fill="#ff0000"/>
<rect x="415.49" y="394.00" width="4.60" height="4.60" fill="#ff0000"/>
<rect x="425.61" y="407.84" width="4.60" height="4.60" fill="#ff0000"/>
<circle cx="283.62" cy="480.68" r="2.50" fill="#ff6a00"/>
<circle cx="306.19" cy="434.63" r="2.50" fill="#ff6a00"/>
<circle cx="353.66" cy="409.34" r="2.50" fill="#ff6a00"/>
<circle cx="382.85" cy="384.59" r="2.50" fill="#ff6a00"/>
<circle cx="399.59" cy="393.11" r="2.50" fill="#ff6a00"/>
<circle cx="417.79" cy="398.43" r="2.50" fill="#ff6a00"/>
<circle cx="427.91" cy="408.54" r="2.50" fill="#ff6a00"/>
<path d="M283.62 478.33L286.49 483.36L280.74 483.36Z" fill="#ffe600"/>
<path d="M306.19 432.29L309.07 437.32L303.32 437.32Z" fill="#ffe600"/>
<path d="M353.66 412.32L356.54 417.35L350.79 417.35Z" fill="#ffe600"/>
<path d="M382.85 408.06L385.72 413.10L379.97 413.10Z" fill="#ffe600"/>
<path d="M399.59 386.24L402.46 391.27L396.71 391.27Z" fill="#ffe600"/>
<path d="M417.79 397.68L420.66 402.72L414.91 402.72Z" fill="#ffe600"/>
<path d="M427.91 403.01L430.79 408.04L425.04 408.04Z" fill="#ffe600"/>
<path d="M283.62 484.08L286.49 479.05L280.74 479.05Z" fill="#22ee22"/>
<path d="M306.19 434.84L309.07 429.81L303.32 429.81Z" fill="#22ee22"/>
<path d="M353.66 415.94L356.54 410.91L350.79 410.91Z" fill="#22ee22"/>
<path d="M382.85 395.98L385.72 390.95L379.97 390.95Z" fill="#22ee22"/>
<path d="M399.59 382.14L402.46 377.11L396.71 377.11Z" fill="#22ee22"/>
<path d="M417.79 391.46L420.66 386.43L414.91 386.43Z" fill="#22ee22"/>
<path d="M427.91 410.89L430.79 405.86L425.04 405.86Z" fill="#22ee22"/>
<path d="M283.62 478.22L286.61 481.21L283.62 484.20L280.63 481.21Z" fill="#1a86ff"/>
<path d="M306.19 431.64L309.18 434.63L306.19 437.62L303.20 434.63Z" fill="#1a86ff"/>
<path d="M353.66 407.68L356.65 410.67L353.66 413.66L350.67 410.67Z" fill="#1a86ff"/>
<path d="M382.85 398.63L385.84 401.62L382.85 404.61L379.86 401.62Z" fill="#1a86ff"/>
<path d="M399.59 380.80L402.58 383.79L399.59 386.78L396.60 383.79Z" fill="#1a86ff"/>
<path d="M417.79 406.09L420.78 409.08L417.79 412.07L414.80 409.08Z" fill="#1a86ff"/>
<path d="M427.91 410.61L430.90 413.60L427.91 416.59L424.92 413.60Z" fill="#1a86ff"/>
<path d="M280.74 481.74L285.77 478.86L285.77 484.61Z" fill="#4a14ff"/>
<path d="M303.32 435.96L308.35 433.08L308.35 438.83Z" fill="#4a14ff"/>
<path d="M350.79 413.60L355.82 410.73L355.82 416.48Z" fill="#4a14ff"/>
<path d="M379.97 398.43L385.00 395.55L385.00 401.30Z" fill="#4a14ff"/>
<path d="M396.71 380.86L401.74 377.99L401.74 383.74Z" fill="#4a14ff"/>
<path d="M414.91 393.37L419.94 390.50L419.94 396.25Z" fill="#4a14ff"/>
<path d="M425.04 410.67L430.07 407.80L430.07 413.55Z" fill="#4a14ff"/>
<path d="M286.49 481.74L281.46 478.86L281.46 484.61Z" fill="#9a1cff"/>
<path d="M309.07 435.96L304.04 433.08L304.04 438.83Z" fill="#9a1cff"/>
<path d="M356.54 414.40L351.51 411.52L351.51 417.27Z" fill="#9a1cff"/>
<path d="M385.72 405.88L380.69 403.01L380.69 408.76Z" fill="#9a1cff"/>
<path d="M402.46 400.29L397.43 397.42L397.43 403.17Z" fill="#9a1cff"/>
<path d="M420.66 401.62L415.63 398.75L415.63 404.50Z" fill="#9a1cff"/>
<path d="M430.79 409.34L425.76 406.47L425.76 412.22Z" fill="#9a1cff"/>
</g>
<g clip-path="url(#clip22)">
<path d="M516.83 462.31L517.49 459.99L518.13 457.60L518.74 455.16L519.33 452.68L519.92 450.20L520.52 447.72L521.12 445.27L521.74 442.86L522.39 440.51L523.08 438.25L523.81 436.08L524.60 434.03L525.44 432.12L526.36 430.37L527.05 429.22L527.77 428.13L528.51 427.09L529.28 426.10L530.06 425.16L530.87 424.26L531.70 423.40L532.53 422.57L533.38 421.78L534.23 421.01L535.10 420.26L535.96 419.54L536.83 418.83L537.69 418.13L538.46 417.53L539.23 416.97L540.02 416.44L540.81 415.94L541.61 415.47L542.42 415.01L543.23 414.56L544.04 414.13L544.86 413.70L545.68 413.27L546.49 412.84L547.31 412.40L548.12 411.94L548.93 411.47L549.76 410.98L550.58 410.50L551.41 410.02L552.24 409.53L553.08 409.05L553.91 408.57L554.74 408.08L555.57 407.59L556.40 407.10L557.23 406.60L558.06 406.10L558.88 405.59L559.71 405.07L560.52 404.55L561.35 404.01L562.17 403.47L563.00 402.91L563.82 402.35L564.64 401.79L565.45 401.22L566.27 400.65L567.08 400.07L567.89 399.49L568.71 398.91L569.52 398.33L570.32 397.74L571.13 397.15L571.94 396.57L572.75 395.98L573.57 395.40L574.39 394.82L575.22 394.24L576.04 393.66L576.86 393.08L577.68 392.49L578.49 391.90L579.30 391.29L580.10 390.68L580.89 390.05L581.67 389.40L582.43 388.73L583.18 388.05L583.95 387.32L584.71 386.58L585.45 385.83L586.19 385.06L586.92 384.28L587.64 383.48L588.35 382.68L589.05 381.85L589.75 381.02L590.44 380.16L591.12 379.30L591.80 378.42L592.47 377.52L593.14 376.60L593.88 375.48L594.59 374.21L595.29 372.81L595.98 371.33L596.66 369.81L597.33 368.28L598.00 366.79L598.66 365.36L599.34 364.04L600.01 362.87L600.70 361.87L601.40 361.10L602.11 360.59L602.84 360.37L603.52 360.44L604.21 360.75L604.91 361.28L605.61 361.98L606.32 362.82L607.04 363.79L607.76 364.85L608.49 365.97L609.21 367.13L609.95 368.28L610.68 369.41L611.42 370.49L612.15 371.47L612.89 372.35L613.59 373.12L614.29 373.90L615.00 374.68L615.71 375.46L616.42 376.24L617.14 377.00L617.86 377.76L618.57 378.50L619.30 379.23L620.02 379.93L620.74 380.61L621.47 381.26L622.20 381.88L622.93 382.46L623.55 382.92L624.17 383.35L624.79 383.75L625.42 384.13L626.05 384.49L626.68 384.84L627.31 385.18L627.94 385.51L628.58 385.83L629.20 386.15L629.83 386.48L630.45 386.81L631.07 387.16L631.68 387.52L632.29 387.86L632.90 388.18L633.53 388.49L634.16 388.79L634.79 389.08L635.41 389.38L636.03 389.69L636.64 390.01L637.23 390.35L637.81 390.72L638.36 391.12L638.88 391.56L639.38 392.04L639.84 392.57L640.35 393.32L640.79 394.17L641.17 395.09L641.50 396.08L641.79 397.12L642.05 398.20L642.30 399.30L642.54 400.43L642.78 401.55L643.05 402.65L643.34 403.73L643.66 404.77L644.04 405.76L644.47 406.68L644.92 407.47L645.40 408.24L645.90 408.99L646.42 409.71L646.96 410.42L647.52 411.11L648.09 411.79L648.67 412.46L649.25 413.13L649.84 413.80L650.42 414.47L650.99 415.15L651.56 415.83L652.11 416.53" fill="none" stroke="#ff0000" stroke-width="1.5" stroke-linejoin="round"/>
<path d="M516.83 463.91L517.10 461.67L517.36 459.41L517.60 457.13L517.85 454.84L518.09 452.55L518.33 450.26L518.57 447.98L518.83 445.72L519.09 443.47L519.37 441.25L519.67 439.07L519.98 436.92L520.32 434.82L520.69 432.77L521.01 431.04L521.32 429.33L521.62 427.63L521.93 425.95L522.24 424.28L522.57 422.64L522.91 421.02L523.28 419.43L523.68 417.87L524.12 416.35L524.60 414.86L525.13 413.42L525.71 412.02L526.36 410.67L526.98 409.52L527.64 408.38L528.35 407.26L529.09 406.16L529.86 405.09L530.66 404.05L531.49 403.05L532.34 402.07L533.21 401.14L534.09 400.24L534.98 399.38L535.88 398.57L536.79 397.81L537.69 397.10L538.47 396.55L539.28 396.06L540.10 395.62L540.94 395.23L541.79 394.87L542.65 394.54L543.51 394.23L544.38 393.92L545.24 393.62L546.11 393.30L546.96 392.97L547.80 392.61L548.64 392.22L549.45 391.78L550.27 391.27L551.08 390.73L551.87 390.15L552.65 389.55L553.43 388.93L554.21 388.30L554.98 387.67L555.75 387.04L556.52 386.42L557.30 385.82L558.09 385.25L558.89 384.72L559.70 384.23L560.52 383.79L561.31 383.43L562.11 383.13L562.92 382.86L563.74 382.63L564.56 382.43L565.39 382.24L566.22 382.06L567.06 381.88L567.89 381.69L568.72 381.48L569.54 381.25L570.35 380.99L571.15 380.69L571.94 380.33L572.78 379.89L573.60 379.39L574.42 378.85L575.23 378.27L576.04 377.67L576.83 377.04L577.63 376.40L578.42 375.76L579.21 375.13L580.00 374.51L580.79 373.91L581.59 373.35L582.38 372.82L583.18 372.35L583.90 371.97L584.62 371.65L585.35 371.36L586.08 371.09L586.81 370.85L587.54 370.62L588.26 370.39L588.99 370.15L589.70 369.90L590.41 369.62L591.11 369.31L591.80 368.96L592.48 368.55L593.14 368.09L593.93 367.38L594.70 366.49L595.45 365.46L596.19 364.32L596.92 363.12L597.64 361.89L598.35 360.67L599.04 359.49L599.73 358.41L600.41 357.44L601.09 356.64L601.76 356.03L602.43 355.67L603.10 355.58L603.84 355.85L604.54 356.50L605.21 357.46L605.87 358.70L606.51 360.14L607.15 361.74L607.79 363.45L608.43 365.20L609.10 366.95L609.78 368.63L610.49 370.20L611.25 371.60L612.04 372.78L612.89 373.68L613.53 374.16L614.21 374.54L614.91 374.85L615.63 375.09L616.37 375.29L617.12 375.44L617.88 375.58L618.64 375.71L619.39 375.84L620.14 376.00L620.87 376.19L621.58 376.44L622.27 376.75L622.93 377.14L623.64 377.66L624.32 378.24L624.98 378.88L625.63 379.57L626.26 380.30L626.87 381.05L627.48 381.84L628.08 382.63L628.68 383.43L629.27 384.23L629.87 385.02L630.46 385.79L631.07 386.54L631.68 387.25L632.28 387.91L632.87 388.57L633.47 389.24L634.08 389.91L634.68 390.57L635.28 391.23L635.88 391.88L636.48 392.53L637.07 393.16L637.65 393.77L638.21 394.37L638.77 394.95L639.31 395.50L639.84 396.03L640.22 396.40L640.59 396.75L640.95 397.07L641.30 397.38L641.64 397.68L641.99 397.97L642.32 398.25L642.66 398.54L643.00 398.84L643.33 399.14L643.67 399.46L644.02 399.80L644.37 400.17L644.73 400.56L645.24 401.14L645.75 401.77L646.26 402.43L646.78 403.12L647.31 403.84L647.84 404.58L648.37 405.33L648.91 406.10L649.45 406.88L649.98 407.65L650.52 408.42L651.05 409.19L651.59 409.94L652.11 410.67" fill="none" stroke="#ff6a00" stroke-width="1.5" stroke-linejoin="round"/>
<path d="M516.83 461.25L517.18 460.86L517.53 460.51L517.89 460.18L518.25 459.86L518.62 459.55L518.98 459.23L519.34 458.91L519.69 458.56L520.04 458.19L520.39 457.78L520.72 457.34L521.04 456.84L521.35 456.28L521.64 455.66L522.26 453.70L522.71 451.21L523.03 448.26L523.24 444.93L523.39 441.31L523.48 437.49L523.57 433.55L523.67 429.57L523.82 425.64L524.05 421.83L524.39 418.24L524.87 414.95L525.51 412.05L526.36 409.61L526.97 408.34L527.63 407.16L528.34 406.06L529.10 405.04L529.89 404.09L530.71 403.19L531.55 402.34L532.42 401.52L533.29 400.73L534.18 399.95L535.07 399.19L535.95 398.42L536.83 397.64L537.69 396.83L538.49 396.06L539.30 395.27L540.12 394.48L540.94 393.69L541.76 392.91L542.59 392.14L543.43 391.39L544.27 390.67L545.12 389.99L545.97 389.34L546.83 388.73L547.70 388.18L548.57 387.68L549.45 387.25L550.21 386.95L550.99 386.71L551.77 386.54L552.57 386.41L553.36 386.33L554.16 386.26L554.97 386.22L555.77 386.18L556.57 386.13L557.38 386.06L558.17 385.96L558.96 385.83L559.75 385.64L560.52 385.39L561.36 385.03L562.18 384.60L563.00 384.11L563.81 383.57L564.62 383.00L565.42 382.40L566.22 381.80L567.02 381.20L567.83 380.62L568.63 380.07L569.45 379.56L570.27 379.12L571.10 378.75L571.94 378.47L572.72 378.29L573.52 378.18L574.32 378.13L575.13 378.12L575.94 378.16L576.76 378.22L577.57 378.30L578.39 378.38L579.21 378.47L580.02 378.54L580.82 378.58L581.62 378.59L582.41 378.56L583.18 378.47L583.92 378.34L584.66 378.21L585.39 378.06L586.12 377.89L586.84 377.71L587.56 377.51L588.27 377.29L588.98 377.06L589.68 376.81L590.38 376.54L591.08 376.26L591.77 375.95L592.46 375.62L593.14 375.27L593.88 374.84L594.61 374.33L595.32 373.76L596.03 373.15L596.72 372.51L597.42 371.84L598.11 371.18L598.80 370.52L599.50 369.89L600.20 369.29L600.90 368.75L601.62 368.26L602.35 367.86L603.10 367.55L603.77 367.35L604.45 367.18L605.14 367.04L605.84 366.95L606.55 366.88L607.25 366.85L607.96 366.85L608.68 366.87L609.39 366.93L610.10 367.01L610.80 367.11L611.51 367.24L612.20 367.39L612.89 367.55L613.63 367.76L614.38 367.98L615.14 368.23L615.90 368.51L616.66 368.81L617.42 369.14L618.17 369.51L618.91 369.91L619.63 370.35L620.34 370.82L621.03 371.34L621.69 371.89L622.32 372.50L622.93 373.14L623.68 374.19L624.35 375.46L624.94 376.92L625.48 378.53L625.97 380.23L626.43 381.99L626.88 383.77L627.32 385.53L627.78 387.21L628.27 388.78L628.81 390.20L629.40 391.42L630.07 392.40L630.83 393.11L631.35 393.38L631.90 393.55L632.49 393.61L633.10 393.60L633.73 393.53L634.37 393.41L635.01 393.27L635.65 393.13L636.29 392.99L636.91 392.89L637.52 392.83L638.10 392.83L638.64 392.92L639.15 393.11L639.65 393.41L640.10 393.79L640.53 394.24L640.92 394.74L641.30 395.29L641.66 395.88L642.01 396.49L642.36 397.12L642.71 397.74L643.07 398.37L643.45 398.97L643.85 399.54L644.27 400.08L644.73 400.56L645.23 401.01L645.74 401.44L646.27 401.85L646.82 402.24L647.39 402.62L647.96 403.00L648.54 403.36L649.13 403.72L649.72 404.07L650.31 404.43L650.90 404.78L651.48 405.14L652.06 405.51L652.63 405.88" fill="none" stroke="#ffe600" stroke-width="1.5" stroke-linejoin="round"/>
<rect x="514.53" y="460.01" width="4.60" height="4.60" fill="#ff0000"/>
<rect x="524.06" y="428.07" width="4.60" height="4.60" fill="#ff0000"/>
<rect x="535.39" y="415.83" width="4.60" height="4.60" fill="#ff0000"/>
<rect x="546.63" y="409.17" width="4.60" height="4.60" fill="#ff0000"/>
<rect x="558.22" y="402.25" width="4.60" height="4.60" fill="#ff0000"/>
<rect x="569.64" y="394.27" width="4.60" height="4.60" fill="#ff0000"/>
<rect x="580.88" y="385.75" width="4.60" height="4.60" fill="#ff0000"/>
<rect x="590.84" y="374.30" width="4.60" height="4.60" fill="#ff0000"/>
<rect x="600.54" y="358.07" width="4.60" height="4.60" fill="#ff0000"/>
<rect x="610.59" y="370.05" width="4.60" height="4.60" fill="#ff0000"/>
<rect x="620.63" y="380.16" width="4.60" height="4.60" fill="#ff0000"/>
<rect x="629.38" y="385.22" width="4.60" height="4.60" fill="#ff0000"/>
<rect x="637.54" y="390.27" width="4.60" height="4.60" fill="#ff0000"/>
<rect x="642.17" y="404.38" width="4.60" height="4.60" fill="#ff0000"/>
<rect x="649.81" y="414.23" width="4.60" height="4.60" fill="#ff0000"/>
<circle cx="516.83" cy="463.91" r="2.50" fill="#ff6a00"/>
<circle cx="520.69" cy="432.77" r="2.50" fill="#ff6a00"/>
<circle cx="526.36" cy="410.67" r="2.50" fill="#ff6a00"/>
<circle cx="537.69" cy="397.10" r="2.50" fill="#ff6a00"/>
<circle cx="549.45" cy="391.78" r="2.50" fill="#ff6a00"/>
<circle cx="560.52" cy="383.79" r="2.50" fill="#ff6a00"/>
<circle cx="571.94" cy="380.33" r="2.50" fill="#ff6a00"/>
<circle cx="583.18" cy="372.35" r="2.50" fill="#ff6a00"/>
<circle cx="593.14" cy="368.09" r="2.50" fill="#ff6a00"/>
<circle cx="603.10" cy="355.58" r="2.50" fill="#ff6a00"/>
<circle cx="612.89" cy="373.68" r="2.50" fill="#ff6a00"/>
<circle cx="622.93" cy="377.14" r="2.50" fill="#ff6a00"/>
<circle cx="631.68" cy="387.25" r="2.50" fill="#ff6a00"/>
<circle cx="639.84" cy="396.03" r="2.50" fill="#ff6a00"/>
<circle cx="644.73" cy="400.56" r="2.50" fill="#ff6a00"/>
<circle cx="652.11" cy="410.67" r="2.50" fill="#ff6a00"/>
<path d="M516.83 458.37L519.71 463.40L513.96 463.40Z" fill="#ffe600"/>
<path d="M521.64 452.78L524.51 457.81L518.76 457.81Z" fill="#ffe600"/>
<path d="M526.36 406.73L529.23 411.76L523.48 411.76Z" fill="#ffe600"/>
<path d="M537.69 393.96L540.56 398.99L534.81 398.99Z" fill="#ffe600"/>
<path d="M549.45 384.38L552.32 389.41L546.57 389.41Z" fill="#ffe600"/>
<path d="M560.52 382.51L563.40 387.54L557.65 387.54Z" fill="#ffe600"/>
<path d="M571.94 375.59L574.81 380.62L569.06 380.62Z" fill="#ffe600"/>
<path d="M583.18 375.59L586.06 380.62L580.31 380.62Z" fill="#ffe600"/>
<path d="M593.14 372.40L596.02 377.43L590.27 377.43Z" fill="#ffe600"/>
<path d="M603.10 364.68L605.97 369.71L600.22 369.71Z" fill="#ffe600"/>
<path d="M612.89 364.68L615.76 369.71L610.01 369.71Z" fill="#ffe600"/>
<path d="M622.93 370.27L625.80 375.30L620.05 375.30Z" fill="#ffe600"/>
<path d="M630.83 390.23L633.70 395.26L627.95 395.26Z" fill="#ffe600"/>
<path d="M639.15 390.23L642.03 395.26L636.28 395.26Z" fill="#ffe600"/>
<path d="M644.73 397.68L647.61 402.72L641.86 402.72Z" fill="#ffe600"/>
<path d="M652.63 403.01L655.50 408.04L649.75 408.04Z" fill="#ffe600"/>
</g>
<g stroke="#111" stroke-width="1.2" fill="none">
<rect x="27.5" y="5.5" width="644.10" height="479.70"/>
<line x1="242.5" y1="5.5" x2="242.5" y2="485.2"/>
<line x1="457.0" y1="5.5" x2="457.0" y2="485.2"/>
<line x1="27.5" y1="165.5" x2="671.6" y2="165.5"/>
<line x1="27.5" y1="325.5" x2="671.6" y2="325.5"/>
<line x1="70.42" y1="165.5" x2="70.42" y2="162.3"/>
<line x1="113.34" y1="165.5" x2="113.34" y2="162.3"/>
<line x1="156.26" y1="165.5" x2="156.26" y2="162.3"/>
<line x1="199.18" y1="165.5" x2="199.18" y2="162.3"/>
<line x1="27.5" y1="142.64" x2="30.7" y2="142.64"/>
<line x1="27.5" y1="119.79" x2="30.7" y2="119.79"/>
<line x1="27.5" y1="96.93" x2="30.7" y2="96.93"/>
<line x1="27.5" y1="74.07" x2="30.7" y2="74.07"/>
<line x1="27.5" y1="51.21" x2="30.7" y2="51.21"/>
<line x1="27.5" y1="28.36" x2="30.7" y2="28.36"/>
<line x1="285.42" y1="165.5" x2="285.42" y2="162.3"/>
<line x1="328.34" y1="165.5" x2="328.34" y2="162.3"/>
<line x1="371.26" y1="165.5" x2="371.26" y2="162.3"/>
<line x1="414.18" y1="165.5" x2="414.18" y2="162.3"/>
<line x1="242.5" y1="142.64" x2="245.7" y2="142.64"/>
<line x1="242.5" y1="119.79" x2="245.7" y2="119.79"/>
<line x1="242.5" y1="96.93" x2="245.7" y2="96.93"/>
<line x1="242.5" y1="74.07" x2="245.7" y2="74.07"/>
<line x1="242.5" y1="51.21" x2="245.7" y2="51.21"/>
<line x1="242.5" y1="28.36" x2="245.7" y2="28.36"/>
<line x1="499.92" y1="165.5" x2="499.92" y2="162.3"/>
<line x1="542.84" y1="165.5" x2="542.84" y2="162.3"/>
<line x1="585.76" y1="165.5" x2="585.76" y2="162.3"/>
<line x1="628.68" y1="165.5" x2="628.68" y2="162.3"/>
<line x1="457.0" y1="142.64" x2="460.2" y2="142.64"/>
<line x1="457.0" y1="119.79" x2="460.2" y2="119.79"/>
<line x1="457.0" y1="96.93" x2="460.2" y2="96.93"/>
<line x1="457.0" y1="74.07" x2="460.2" y2="74.07"/>
<line x1="457.0" y1="51.21" x2="460.2" y2="51.21"/>
<line x1="457.0" y1="28.36" x2="460.2" y2="28.36"/>
<line x1="70.42" y1="325.5" x2="70.42" y2="322.3"/>
<line x1="113.34" y1="325.5" x2="113.34" y2="322.3"/>
<line x1="156.26" y1="325.5" x2="156.26" y2="322.3"/>
<line x1="199.18" y1="325.5" x2="199.18" y2="322.3"/>
<line x1="27.5" y1="302.64" x2="30.7" y2="302.64"/>
<line x1="27.5" y1="279.79" x2="30.7" y2="279.79"/>
<line x1="27.5" y1="256.93" x2="30.7" y2="256.93"/>
<line x1="27.5" y1="234.07" x2="30.7" y2="234.07"/>
<line x1="27.5" y1="211.21" x2="30.7" y2="211.21"/>
<line x1="27.5" y1="188.36" x2="30.7" y2="188.36"/>
<line x1="285.42" y1="325.5" x2="285.42" y2="322.3"/>
<line x1="328.34" y1="325.5" x2="328.34" y2="322.3"/>
<line x1="371.26" y1="325.5" x2="371.26" y2="322.3"/>
<line x1="414.18" y1="325.5" x2="414.18" y2="322.3"/>
<line x1="242.5" y1="302.64" x2="245.7" y2="302.64"/>
<line x1="242.5" y1="279.79" x2="245.7" y2="279.79"/>
<line x1="242.5" y1="256.93" x2="245.7" y2="256.93"/>
<line x1="242.5" y1="234.07" x2="245.7" y2="234.07"/>
<line x1="242.5" y1="211.21" x2="245.7" y2="211.21"/>
<line x1="242.5" y1="188.36" x2="245.7" y2="188.36"/>
<line x1="499.92" y1="325.5" x2="499.92" y2="322.3"/>
<line x1="542.84" y1="325.5" x2="542.84" y2="322.3"/>
<line x1="585.76" y1="325.5" x2="585.76" y2="322.3"/>
<line x1="628.68" y1="325.5" x2="628.68" y2="322.3"/>
<line x1="457.0" y1="302.64" x2="460.2" y2="302.64"/>
<line x1="457.0" y1="279.79" x2="460.2" y2="279.79"/>
<line x1="457.0" y1="256.93" x2="460.2" y2="256.93"/>
<line x1="457.0" y1="234.07" x2="460.2" y2="234.07"/>
<line x1="457.0" y1="211.21" x2="460.2" y2="211.21"/>
<line x1="457.0" y1="188.36" x2="460.2" y2="188.36"/>
<line x1="70.42" y1="485.2" x2="70.42" y2="482.0"/>
<line x1="113.34" y1="485.2" x2="113.34" y2="482.0"/>
<line x1="156.26" y1="485.2" x2="156.26" y2="482.0"/>
<line x1="199.18" y1="485.2" x2="199.18" y2="482.0"/>
<line x1="27.5" y1="458.58" x2="30.7" y2="458.58"/>
<line x1="27.5" y1="431.97" x2="30.7" y2="431.97"/>
<line x1="27.5" y1="405.35" x2="30.7" y2="405.35"/>
<line x1="27.5" y1="378.73" x2="30.7" y2="378.73"/>
<line x1="27.5" y1="352.12" x2="30.7" y2="352.12"/>
<line x1="285.42" y1="485.2" x2="285.42" y2="482.0"/>
<line x1="328.34" y1="485.2" x2="328.34" y2="482.0"/>
<line x1="371.26" y1="485.2" x2="371.26" y2="482.0"/>
<line x1="414.18" y1="485.2" x2="414.18" y2="482.0"/>
<line x1="242.5" y1="458.58" x2="245.7" y2="458.58"/>
<line x1="242.5" y1="431.97" x2="245.7" y2="431.97"/>
<line x1="242.5" y1="405.35" x2="245.7" y2="405.35"/>
<line x1="242.5" y1="378.73" x2="245.7" y2="378.73"/>
<line x1="242.5" y1="352.12" x2="245.7" y2="352.12"/>
<line x1="499.92" y1="485.2" x2="499.92" y2="482.0"/>
<line x1="542.84" y1="485.2" x2="542.84" y2="482.0"/>
<line x1="585.76" y1="485.2" x2="585.76" y2="482.0"/>
<line x1="628.68" y1="485.2" x2="628.68" y2="482.0"/>
<line x1="457.0" y1="458.58" x2="460.2" y2="458.58"/>
<line x1="457.0" y1="431.97" x2="460.2" y2="431.97"/>
<line x1="457.0" y1="405.35" x2="460.2" y2="405.35"/>
<line x1="457.0" y1="378.73" x2="460.2" y2="378.73"/>
<line x1="457.0" y1="352.12" x2="460.2" y2="352.12"/>
</g>
<g font-family="'Liberation Serif', serif" font-size="14" fill="#111" text-anchor="end">
<text transform="translate(23.60 169.50) scale(0.89 1)">0</text>
<text transform="translate(23.60 146.64) scale(0.89 1)">1</text>
<text transform="translate(23.60 123.79) scale(0.89 1)">2</text>
<text transform="translate(23.60 100.93) scale(0.89 1)">3</text>
<text transform="translate(23.60 78.07) scale(0.89 1)">4</text>
<text transform="translate(23.60 55.21) scale(0.89 1)">5</text>
<text transform="translate(23.60 32.36) scale(0.89 1)">6</text>
<text transform="translate(23.60 9.50) scale(0.89 1)">7</text>
<text transform="translate(23.60 329.50) scale(0.89 1)">0</text>
<text transform="translate(23.60 306.64) scale(0.89 1)">1</text>
<text transform="translate(23.60 283.79) scale(0.89 1)">2</text>
<text transform="translate(23.60 260.93) scale(0.89 1)">3</text>
<text transform="translate(23.60 238.07) scale(0.89 1)">4</text>
<text transform="translate(23.60 215.21) scale(0.89 1)">5</text>
<text transform="translate(23.60 192.36) scale(0.89 1)">6</text>
<text transform="translate(23.60 489.20) scale(0.89 1)">0</text>
<text transform="translate(23.60 462.58) scale(0.89 1)">1</text>
<text transform="translate(23.60 435.97) scale(0.89 1)">2</text>
<text transform="translate(23.60 409.35) scale(0.89 1)">3</text>
<text transform="translate(23.60 382.73) scale(0.89 1)">4</text>
<text transform="translate(23.60 356.12) scale(0.89 1)">5</text>
</g>
<g font-family="'Liberation Serif', serif" font-size="14" fill="#111" text-anchor="middle">
<text transform="translate(27.50 498.90) scale(0.89 1)">0</text>
<text transform="translate(70.42 498.90) scale(0.89 1)">500</text>
<text transform="translate(113.34 498.90) scale(0.89 1)">1000</text>
<text transform="translate(156.26 498.90) scale(0.89 1)">1500</text>
<text transform="translate(199.18 498.90) scale(0.89 1)">2000</text>
<text transform="translate(242.50 498.90) scale(0.89 1)">0</text>
<text transform="translate(285.42 498.90) scale(0.89 1)">500</text>
<text transform="translate(328.34 498.90) scale(0.89 1)">1000</text>
<text transform="translate(371.26 498.90) scale(0.89 1)">1500</text>
<text transform="translate(414.18 498.90) scale(0.89 1)">2000</text>
<text transform="translate(457.00 498.90) scale(0.89 1)">0</text>
<text transform="translate(499.92 498.90) scale(0.89 1)">500</text>
<text transform="translate(542.84 498.90) scale(0.89 1)">1000</text>
<text transform="translate(585.76 498.90) scale(0.89 1)">1500</text>
<text transform="translate(628.68 498.90) scale(0.89 1)">2000</text>
<text transform="translate(671.60 498.90) scale(0.89 1)">2500</text>
</g>
<g font-family="'Liberation Serif', serif" font-size="12.5" fill="#111" text-anchor="middle">
<text x="134.80" y="513.70"><tspan font-style="italic">CGDD</tspan> (°C)</text>
<text x="349.80" y="513.70"><tspan font-style="italic">CGDD</tspan> (°C)</text>
<text x="564.30" y="513.70"><tspan font-style="italic">CGDD</tspan> (°C)</text>
</g>
<g font-family="'Liberation Serif', serif" font-size="13" fill="#111" text-anchor="middle">
<text transform="translate(11.8 85.50) rotate(-90)"><tspan font-style="italic">LAI</tspan> (cm<tspan font-size="8" dy="-4.5">2</tspan><tspan dy="4.5">·cm</tspan><tspan font-size="8" dy="-4.5">-2</tspan><tspan dy="4.5">)</tspan></text>
<text transform="translate(11.8 245.50) rotate(-90)"><tspan font-style="italic">LAI</tspan> (cm<tspan font-size="8" dy="-4.5">2</tspan><tspan dy="4.5">·cm</tspan><tspan font-size="8" dy="-4.5">-2</tspan><tspan dy="4.5">)</tspan></text>
<text transform="translate(11.8 405.35) rotate(-90)"><tspan font-style="italic">LAI</tspan> (cm<tspan font-size="8" dy="-4.5">2</tspan><tspan dy="4.5">·cm</tspan><tspan font-size="8" dy="-4.5">-2</tspan><tspan dy="4.5">)</tspan></text>
</g>
<text font-family="'Liberation Serif', serif" font-size="12.7" fill="#111" text-anchor="end" x="233.40" y="16.00">Korla</text>
<line x1="32.70" y1="10.10" x2="50.70" y2="10.10" stroke="#ff0000" stroke-width="1.7"/>
<rect x="39.50" y="7.90" width="4.40" height="4.40" fill="#ff0000"/>
<text font-family="'Liberation Serif', serif" font-size="8" fill="#222" x="52.50" y="12.74" textLength="31.00" lengthAdjust="spacingAndGlyphs">sample(1)</text>
<line x1="32.70" y1="19.70" x2="50.70" y2="19.70" stroke="#ff6a00" stroke-width="1.7"/>
<circle cx="41.70" cy="19.70" r="2.40" fill="#ff6a00"/>
<text font-family="'Liberation Serif', serif" font-size="8" fill="#222" x="52.50" y="22.34" textLength="31.00" lengthAdjust="spacingAndGlyphs">sample(2)</text>
<line x1="32.70" y1="29.30" x2="50.70" y2="29.30" stroke="#ffe600" stroke-width="1.7"/>
<path d="M41.70 26.55L44.45 31.36L38.95 31.36Z" fill="#ffe600"/>
<text font-family="'Liberation Serif', serif" font-size="8" fill="#222" x="52.50" y="31.94" textLength="31.00" lengthAdjust="spacingAndGlyphs">sample(3)</text>
<line x1="32.70" y1="38.90" x2="50.70" y2="38.90" stroke="#22ee22" stroke-width="1.7"/>
<path d="M41.70 41.65L44.45 36.84L38.95 36.84Z" fill="#22ee22"/>
<text font-family="'Liberation Serif', serif" font-size="8" fill="#222" x="52.50" y="41.54" textLength="31.00" lengthAdjust="spacingAndGlyphs">sample(4)</text>
<line x1="32.70" y1="48.50" x2="50.70" y2="48.50" stroke="#1a86ff" stroke-width="1.7"/>
<path d="M41.70 45.64L44.56 48.50L41.70 51.36L38.84 48.50Z" fill="#1a86ff"/>
<text font-family="'Liberation Serif', serif" font-size="8" fill="#222" x="52.50" y="51.14" textLength="31.00" lengthAdjust="spacingAndGlyphs">sample(5)</text>
<line x1="32.70" y1="58.10" x2="50.70" y2="58.10" stroke="#4a14ff" stroke-width="1.7"/>
<path d="M38.95 58.10L43.76 55.35L43.76 60.85Z" fill="#4a14ff"/>
<text font-family="'Liberation Serif', serif" font-size="8" fill="#222" x="52.50" y="60.74" textLength="31.00" lengthAdjust="spacingAndGlyphs">sample(6)</text>
<line x1="32.70" y1="67.70" x2="50.70" y2="67.70" stroke="#9a1cff" stroke-width="1.7"/>
<path d="M44.45 67.70L39.64 64.95L39.64 70.45Z" fill="#9a1cff"/>
<text font-family="'Liberation Serif', serif" font-size="8" fill="#222" x="52.50" y="70.34" textLength="31.00" lengthAdjust="spacingAndGlyphs">sample(7)</text>
<line x1="32.70" y1="77.30" x2="50.70" y2="77.30" stroke="#ff0000" stroke-width="1.7"/>
<circle cx="41.70" cy="77.30" r="2.40" fill="#ff0000"/>
<text font-family="'Liberation Serif', serif" font-size="8" fill="#222" x="52.50" y="79.94" textLength="31.00" lengthAdjust="spacingAndGlyphs">sample(8)</text>
<line x1="32.70" y1="86.90" x2="50.70" y2="86.90" stroke="#ff6a00" stroke-width="1.7"/>
<path d="M41.70 84.26L42.35 86.00L44.21 86.08L42.75 87.24L43.25 89.04L41.70 88.01L40.15 89.04L40.65 87.24L39.19 86.08L41.05 86.00Z" fill="#ff6a00"/>
<text font-family="'Liberation Serif', serif" font-size="8" fill="#222" x="52.50" y="89.54" textLength="31.00" lengthAdjust="spacingAndGlyphs">sample(9)</text>
<line x1="32.70" y1="96.50" x2="50.70" y2="96.50" stroke="#ffe600" stroke-width="1.7"/>
<circle cx="41.70" cy="96.50" r="2.40" fill="#ffe600"/>
<text font-family="'Liberation Serif', serif" font-size="8" fill="#222" x="52.50" y="99.14" textLength="35.00" lengthAdjust="spacingAndGlyphs">sample(10)</text>
<text font-family="'Liberation Serif', serif" font-size="12.7" fill="#111" text-anchor="end" x="447.90" y="16.80">Akesu</text>
<line x1="247.90" y1="10.60" x2="271.40" y2="10.60" stroke="#ff0000" stroke-width="1.7"/>
<rect x="257.25" y="8.20" width="4.80" height="4.80" fill="#ff0000"/>
<text font-family="'Liberation Serif', serif" font-size="10" fill="#222" x="273.60" y="13.90" textLength="39.50" lengthAdjust="spacingAndGlyphs">sample(1)</text>
<line x1="247.90" y1="23.05" x2="271.40" y2="23.05" stroke="#ff6a00" stroke-width="1.7"/>
<circle cx="259.65" cy="23.05" r="2.60" fill="#ff6a00"/>
<text font-family="'Liberation Serif', serif" font-size="10" fill="#222" x="273.60" y="26.35" textLength="39.50" lengthAdjust="spacingAndGlyphs">sample(2)</text>
<line x1="247.90" y1="35.50" x2="271.40" y2="35.50" stroke="#ffe600" stroke-width="1.7"/>
<path d="M259.65 32.50L262.65 37.75L256.65 37.75Z" fill="#ffe600"/>
<text font-family="'Liberation Serif', serif" font-size="10" fill="#222" x="273.60" y="38.80" textLength="39.50" lengthAdjust="spacingAndGlyphs">sample(3)</text>
<line x1="247.90" y1="47.95" x2="271.40" y2="47.95" stroke="#22ee22" stroke-width="1.7"/>
<path d="M259.65 50.95L262.65 45.70L256.65 45.70Z" fill="#22ee22"/>
<text font-family="'Liberation Serif', serif" font-size="10" fill="#222" x="273.60" y="51.25" textLength="39.50" lengthAdjust="spacingAndGlyphs">sample(4)</text>
<line x1="247.90" y1="60.40" x2="271.40" y2="60.40" stroke="#1a86ff" stroke-width="1.7"/>
<path d="M259.65 57.28L262.77 60.40L259.65 63.52L256.53 60.40Z" fill="#1a86ff"/>
<text font-family="'Liberation Serif', serif" font-size="10" fill="#222" x="273.60" y="63.70" textLength="39.50" lengthAdjust="spacingAndGlyphs">sample(5)</text>
<line x1="247.90" y1="72.85" x2="271.40" y2="72.85" stroke="#4a14ff" stroke-width="1.7"/>
<path d="M256.65 72.85L261.90 69.85L261.90 75.85Z" fill="#4a14ff"/>
<text font-family="'Liberation Serif', serif" font-size="10" fill="#222" x="273.60" y="76.15" textLength="39.50" lengthAdjust="spacingAndGlyphs">sample(6)</text>
<text font-family="'Liberation Serif', serif" font-size="12.7" fill="#111" text-anchor="end" x="659.70" y="16.80">Shihezi</text>
<line x1="462.40" y1="10.60" x2="485.90" y2="10.60" stroke="#ff0000" stroke-width="1.7"/>
<rect x="471.75" y="8.20" width="4.80" height="4.80" fill="#ff0000"/>
<text font-family="'Liberation Serif', serif" font-size="10" fill="#222" x="488.10" y="13.90" textLength="39.50" lengthAdjust="spacingAndGlyphs">sample(1)</text>
<line x1="462.40" y1="23.05" x2="485.90" y2="23.05" stroke="#ff6a00" stroke-width="1.7"/>
<circle cx="474.15" cy="23.05" r="2.60" fill="#ff6a00"/>
<text font-family="'Liberation Serif', serif" font-size="10" fill="#222" x="488.10" y="26.35" textLength="39.50" lengthAdjust="spacingAndGlyphs">sample(2)</text>
<line x1="462.40" y1="35.50" x2="485.90" y2="35.50" stroke="#ffe600" stroke-width="1.7"/>
<path d="M474.15 32.50L477.15 37.75L471.15 37.75Z" fill="#ffe600"/>
<text font-family="'Liberation Serif', serif" font-size="10" fill="#222" x="488.10" y="38.80" textLength="39.50" lengthAdjust="spacingAndGlyphs">sample(3)</text>
<line x1="462.40" y1="47.95" x2="485.90" y2="47.95" stroke="#22ee22" stroke-width="1.7"/>
<path d="M474.15 50.95L477.15 45.70L471.15 45.70Z" fill="#22ee22"/>
<text font-family="'Liberation Serif', serif" font-size="10" fill="#222" x="488.10" y="51.25" textLength="39.50" lengthAdjust="spacingAndGlyphs">sample(4)</text>
<line x1="462.40" y1="60.40" x2="485.90" y2="60.40" stroke="#1a86ff" stroke-width="1.7"/>
<path d="M474.15 57.28L477.27 60.40L474.15 63.52L471.03 60.40Z" fill="#1a86ff"/>
<text font-family="'Liberation Serif', serif" font-size="10" fill="#222" x="488.10" y="63.70" textLength="39.50" lengthAdjust="spacingAndGlyphs">sample(5)</text>
<line x1="462.40" y1="72.85" x2="485.90" y2="72.85" stroke="#4a14ff" stroke-width="1.7"/>
<path d="M471.15 72.85L476.40 69.85L476.40 75.85Z" fill="#4a14ff"/>
<text font-family="'Liberation Serif', serif" font-size="10" fill="#222" x="488.10" y="76.15" textLength="39.50" lengthAdjust="spacingAndGlyphs">sample(6)</text>
<text font-family="'Liberation Serif', serif" font-size="12.7" fill="#111" text-anchor="end" x="231.80" y="176.80">Changji</text>
<line x1="32.70" y1="169.70" x2="49.70" y2="169.70" stroke="#ff0000" stroke-width="1.7"/>
<rect x="39.00" y="167.50" width="4.40" height="4.40" fill="#ff0000"/>
<text font-family="'Liberation Serif', serif" font-size="7.5" fill="#222" x="51.00" y="172.17" textLength="28.20" lengthAdjust="spacingAndGlyphs">sample(1)</text>
<line x1="32.70" y1="178.67" x2="49.70" y2="178.67" stroke="#ff6a00" stroke-width="1.7"/>
<circle cx="41.20" cy="178.67" r="2.40" fill="#ff6a00"/>
<text font-family="'Liberation Serif', serif" font-size="7.5" fill="#222" x="51.00" y="181.14" textLength="28.20" lengthAdjust="spacingAndGlyphs">sample(2)</text>
<line x1="32.70" y1="187.64" x2="49.70" y2="187.64" stroke="#ffe600" stroke-width="1.7"/>
<path d="M41.20 184.89L43.95 189.70L38.45 189.70Z" fill="#ffe600"/>
<text font-family="'Liberation Serif', serif" font-size="7.5" fill="#222" x="51.00" y="190.11" textLength="28.20" lengthAdjust="spacingAndGlyphs">sample(3)</text>
<line x1="32.70" y1="196.61" x2="49.70" y2="196.61" stroke="#22ee22" stroke-width="1.7"/>
<path d="M41.20 199.36L43.95 194.55L38.45 194.55Z" fill="#22ee22"/>
<text font-family="'Liberation Serif', serif" font-size="7.5" fill="#222" x="51.00" y="199.08" textLength="28.20" lengthAdjust="spacingAndGlyphs">sample(4)</text>
<line x1="32.70" y1="205.58" x2="49.70" y2="205.58" stroke="#22ee22" stroke-width="1.7"/>
<circle cx="41.20" cy="205.58" r="2.40" fill="#22ee22"/><circle cx="40.80" cy="205.18" r="0.73" fill="#a0ffa0"/>
<text font-family="'Liberation Serif', serif" font-size="7.5" fill="#222" x="51.00" y="208.05" textLength="28.20" lengthAdjust="spacingAndGlyphs">sample(5)</text>
<line x1="32.70" y1="214.55" x2="49.70" y2="214.55" stroke="#1a86ff" stroke-width="1.7"/>
<path d="M38.01 214.55H44.39M41.20 211.36V217.74" stroke="#1a86ff" stroke-width="1"/>
<text font-family="'Liberation Serif', serif" font-size="7.5" fill="#222" x="51.00" y="217.02" textLength="28.20" lengthAdjust="spacingAndGlyphs">sample(6)</text>
<line x1="32.70" y1="223.52" x2="49.70" y2="223.52" stroke="#4a14ff" stroke-width="1.7"/>
<path d="M38.45 220.77L43.95 226.27M43.95 220.77L38.45 226.27" stroke="#4a14ff" stroke-width="1"/>
<text font-family="'Liberation Serif', serif" font-size="7.5" fill="#222" x="51.00" y="225.99" textLength="28.20" lengthAdjust="spacingAndGlyphs">sample(7)</text>
<line x1="32.70" y1="232.49" x2="49.70" y2="232.49" stroke="#9a1cff" stroke-width="1.7"/>
<path d="M38.45 229.74L43.95 235.24M43.95 229.74L38.45 235.24M41.20 229.19V235.79" stroke="#9a1cff" stroke-width="1"/>
<text font-family="'Liberation Serif', serif" font-size="7.5" fill="#222" x="51.00" y="234.97" textLength="28.20" lengthAdjust="spacingAndGlyphs">sample(8)</text>
<text font-family="'Liberation Serif', serif" font-size="12.7" fill="#111" text-anchor="end" x="445.20" y="176.80">Karamay</text>
<line x1="247.90" y1="170.60" x2="271.40" y2="170.60" stroke="#ff0000" stroke-width="1.7"/>
<rect x="257.25" y="168.20" width="4.80" height="4.80" fill="#ff0000"/>
<text font-family="'Liberation Serif', serif" font-size="10" fill="#222" x="273.60" y="173.90" textLength="39.50" lengthAdjust="spacingAndGlyphs">sample(1)</text>
<line x1="247.90" y1="183.05" x2="271.40" y2="183.05" stroke="#ff0000" stroke-width="1.7"/>
<circle cx="259.65" cy="183.05" r="2.60" fill="#ff0000"/>
<text font-family="'Liberation Serif', serif" font-size="10" fill="#222" x="273.60" y="186.35" textLength="39.50" lengthAdjust="spacingAndGlyphs">sample(2)</text>
<line x1="247.90" y1="195.50" x2="271.40" y2="195.50" stroke="#ff6a00" stroke-width="1.7"/>
<path d="M259.65 192.62L260.36 194.52L262.39 194.61L260.80 195.87L261.34 197.83L259.65 196.71L257.96 197.83L258.50 195.87L256.91 194.61L258.94 194.52Z" fill="#ff6a00"/>
<text font-family="'Liberation Serif', serif" font-size="10" fill="#222" x="273.60" y="198.80" textLength="39.50" lengthAdjust="spacingAndGlyphs">sample(3)</text>
<line x1="247.90" y1="207.95" x2="271.40" y2="207.95" stroke="#ffe600" stroke-width="1.7"/>
<circle cx="259.65" cy="207.95" r="2.60" fill="#ffe600"/>
<text font-family="'Liberation Serif', serif" font-size="10" fill="#222" x="273.60" y="211.25" textLength="39.50" lengthAdjust="spacingAndGlyphs">sample(4)</text>
<line x1="247.90" y1="220.40" x2="271.40" y2="220.40" stroke="#22ee22" stroke-width="1.7"/>
<circle cx="259.65" cy="220.40" r="2.60" fill="#22ee22"/><circle cx="259.25" cy="220.00" r="0.79" fill="#a0ffa0"/>
<text font-family="'Liberation Serif', serif" font-size="10" fill="#222" x="273.60" y="223.70" textLength="39.50" lengthAdjust="spacingAndGlyphs">sample(5)</text>
<line x1="247.90" y1="232.85" x2="271.40" y2="232.85" stroke="#ff0000" stroke-width="1.7"/>
<text font-family="'Liberation Serif', serif" font-size="10" fill="#222" x="273.60" y="236.15" textLength="39.50" lengthAdjust="spacingAndGlyphs">sample(6)</text>
<text font-family="'Liberation Serif', serif" font-size="12.7" fill="#111" text-anchor="end" x="660.30" y="176.80">Liaoning</text>
<line x1="462.40" y1="170.60" x2="485.90" y2="170.60" stroke="#ff0000" stroke-width="1.7"/>
<rect x="471.75" y="168.20" width="4.80" height="4.80" fill="#ff0000"/>
<text font-family="'Liberation Serif', serif" font-size="10" fill="#222" x="488.10" y="173.90" textLength="39.50" lengthAdjust="spacingAndGlyphs">sample(1)</text>
<line x1="462.40" y1="183.05" x2="485.90" y2="183.05" stroke="#ff6a00" stroke-width="1.7"/>
<circle cx="474.15" cy="183.05" r="2.60" fill="#ff6a00"/>
<text font-family="'Liberation Serif', serif" font-size="10" fill="#222" x="488.10" y="186.35" textLength="39.50" lengthAdjust="spacingAndGlyphs">sample(2)</text>
<line x1="462.40" y1="195.50" x2="485.90" y2="195.50" stroke="#ffe600" stroke-width="1.7"/>
<path d="M474.15 192.50L477.15 197.75L471.15 197.75Z" fill="#ffe600"/>
<text font-family="'Liberation Serif', serif" font-size="10" fill="#222" x="488.10" y="198.80" textLength="39.50" lengthAdjust="spacingAndGlyphs">sample(3)</text>
<line x1="462.40" y1="207.95" x2="485.90" y2="207.95" stroke="#22ee22" stroke-width="1.7"/>
<path d="M474.15 210.95L477.15 205.70L471.15 205.70Z" fill="#22ee22"/>
<text font-family="'Liberation Serif', serif" font-size="10" fill="#222" x="488.10" y="211.25" textLength="39.50" lengthAdjust="spacingAndGlyphs">sample(4)</text>
<text font-family="'Liberation Serif', serif" font-size="12.7" fill="#111" text-anchor="end" x="233.10" y="336.80">Hubei</text>
<line x1="32.90" y1="330.60" x2="56.40" y2="330.60" stroke="#ff0000" stroke-width="1.7"/>
<rect x="42.25" y="328.20" width="4.80" height="4.80" fill="#ff0000"/>
<text font-family="'Liberation Serif', serif" font-size="10" fill="#222" x="58.60" y="333.90" textLength="39.50" lengthAdjust="spacingAndGlyphs">sample(1)</text>
<line x1="32.90" y1="343.05" x2="56.40" y2="343.05" stroke="#ff6a00" stroke-width="1.7"/>
<circle cx="44.65" cy="343.05" r="2.60" fill="#ff6a00"/>
<text font-family="'Liberation Serif', serif" font-size="10" fill="#222" x="58.60" y="346.35" textLength="39.50" lengthAdjust="spacingAndGlyphs">sample(2)</text>
<line x1="32.90" y1="355.50" x2="56.40" y2="355.50" stroke="#ffe600" stroke-width="1.7"/>
<path d="M44.65 352.50L47.65 357.75L41.65 357.75Z" fill="#ffe600"/>
<text font-family="'Liberation Serif', serif" font-size="10" fill="#222" x="58.60" y="358.80" textLength="39.50" lengthAdjust="spacingAndGlyphs">sample(3)</text>
<text font-family="'Liberation Serif', serif" font-size="12.7" fill="#111" text-anchor="end" x="447.90" y="336.80">He'nan</text>
<line x1="247.90" y1="330.60" x2="271.40" y2="330.60" stroke="#ff0000" stroke-width="1.7"/>
<rect x="257.25" y="328.20" width="4.80" height="4.80" fill="#ff0000"/>
<text font-family="'Liberation Serif', serif" font-size="10" fill="#222" x="273.60" y="333.90" textLength="39.50" lengthAdjust="spacingAndGlyphs">sample(1)</text>
<line x1="247.90" y1="343.05" x2="271.40" y2="343.05" stroke="#ff6a00" stroke-width="1.7"/>
<circle cx="259.65" cy="343.05" r="2.60" fill="#ff6a00"/>
<text font-family="'Liberation Serif', serif" font-size="10" fill="#222" x="273.60" y="346.35" textLength="39.50" lengthAdjust="spacingAndGlyphs">sample(2)</text>
<line x1="247.90" y1="355.50" x2="271.40" y2="355.50" stroke="#ffe600" stroke-width="1.7"/>
<path d="M259.65 352.50L262.65 357.75L256.65 357.75Z" fill="#ffe600"/>
<text font-family="'Liberation Serif', serif" font-size="10" fill="#222" x="273.60" y="358.80" textLength="39.50" lengthAdjust="spacingAndGlyphs">sample(3)</text>
<line x1="247.90" y1="367.95" x2="271.40" y2="367.95" stroke="#22ee22" stroke-width="1.7"/>
<path d="M259.65 370.95L262.65 365.70L256.65 365.70Z" fill="#22ee22"/>
<text font-family="'Liberation Serif', serif" font-size="10" fill="#222" x="273.60" y="371.25" textLength="39.50" lengthAdjust="spacingAndGlyphs">sample(4)</text>
<line x1="247.90" y1="380.40" x2="271.40" y2="380.40" stroke="#1a86ff" stroke-width="1.7"/>
<path d="M259.65 377.28L262.77 380.40L259.65 383.52L256.53 380.40Z" fill="#1a86ff"/>
<text font-family="'Liberation Serif', serif" font-size="10" fill="#222" x="273.60" y="383.70" textLength="39.50" lengthAdjust="spacingAndGlyphs">sample(5)</text>
<line x1="247.90" y1="392.85" x2="271.40" y2="392.85" stroke="#4a14ff" stroke-width="1.7"/>
<path d="M256.65 392.85L261.90 389.85L261.90 395.85Z" fill="#4a14ff"/>
<text font-family="'Liberation Serif', serif" font-size="10" fill="#222" x="273.60" y="396.15" textLength="39.50" lengthAdjust="spacingAndGlyphs">sample(6)</text>
<line x1="247.90" y1="405.30" x2="271.40" y2="405.30" stroke="#9a1cff" stroke-width="1.7"/>
<path d="M262.65 405.30L257.40 402.30L257.40 408.30Z" fill="#9a1cff"/>
<text font-family="'Liberation Serif', serif" font-size="10" fill="#222" x="273.60" y="408.60" textLength="39.50" lengthAdjust="spacingAndGlyphs">sample(7)</text>
<text font-family="'Liberation Serif', serif" font-size="12.7" fill="#111" text-anchor="end" x="661.10" y="336.80">Hebei</text>
<line x1="462.40" y1="330.60" x2="485.90" y2="330.60" stroke="#ff0000" stroke-width="1.7"/>
<rect x="471.75" y="328.20" width="4.80" height="4.80" fill="#ff0000"/>
<text font-family="'Liberation Serif', serif" font-size="10" fill="#222" x="488.10" y="333.90" textLength="39.50" lengthAdjust="spacingAndGlyphs">sample(1)</text>
<line x1="462.40" y1="343.05" x2="485.90" y2="343.05" stroke="#ff6a00" stroke-width="1.7"/>
<circle cx="474.15" cy="343.05" r="2.60" fill="#ff6a00"/>
<text font-family="'Liberation Serif', serif" font-size="10" fill="#222" x="488.10" y="346.35" textLength="39.50" lengthAdjust="spacingAndGlyphs">sample(2)</text>
<line x1="462.40" y1="355.50" x2="485.90" y2="355.50" stroke="#ffe600" stroke-width="1.7"/>
<path d="M474.15 352.50L477.15 357.75L471.15 357.75Z" fill="#ffe600"/>
<text font-family="'Liberation Serif', serif" font-size="10" fill="#222" x="488.10" y="358.80" textLength="39.50" lengthAdjust="spacingAndGlyphs">sample(3)</text>
</svg></body></html>
